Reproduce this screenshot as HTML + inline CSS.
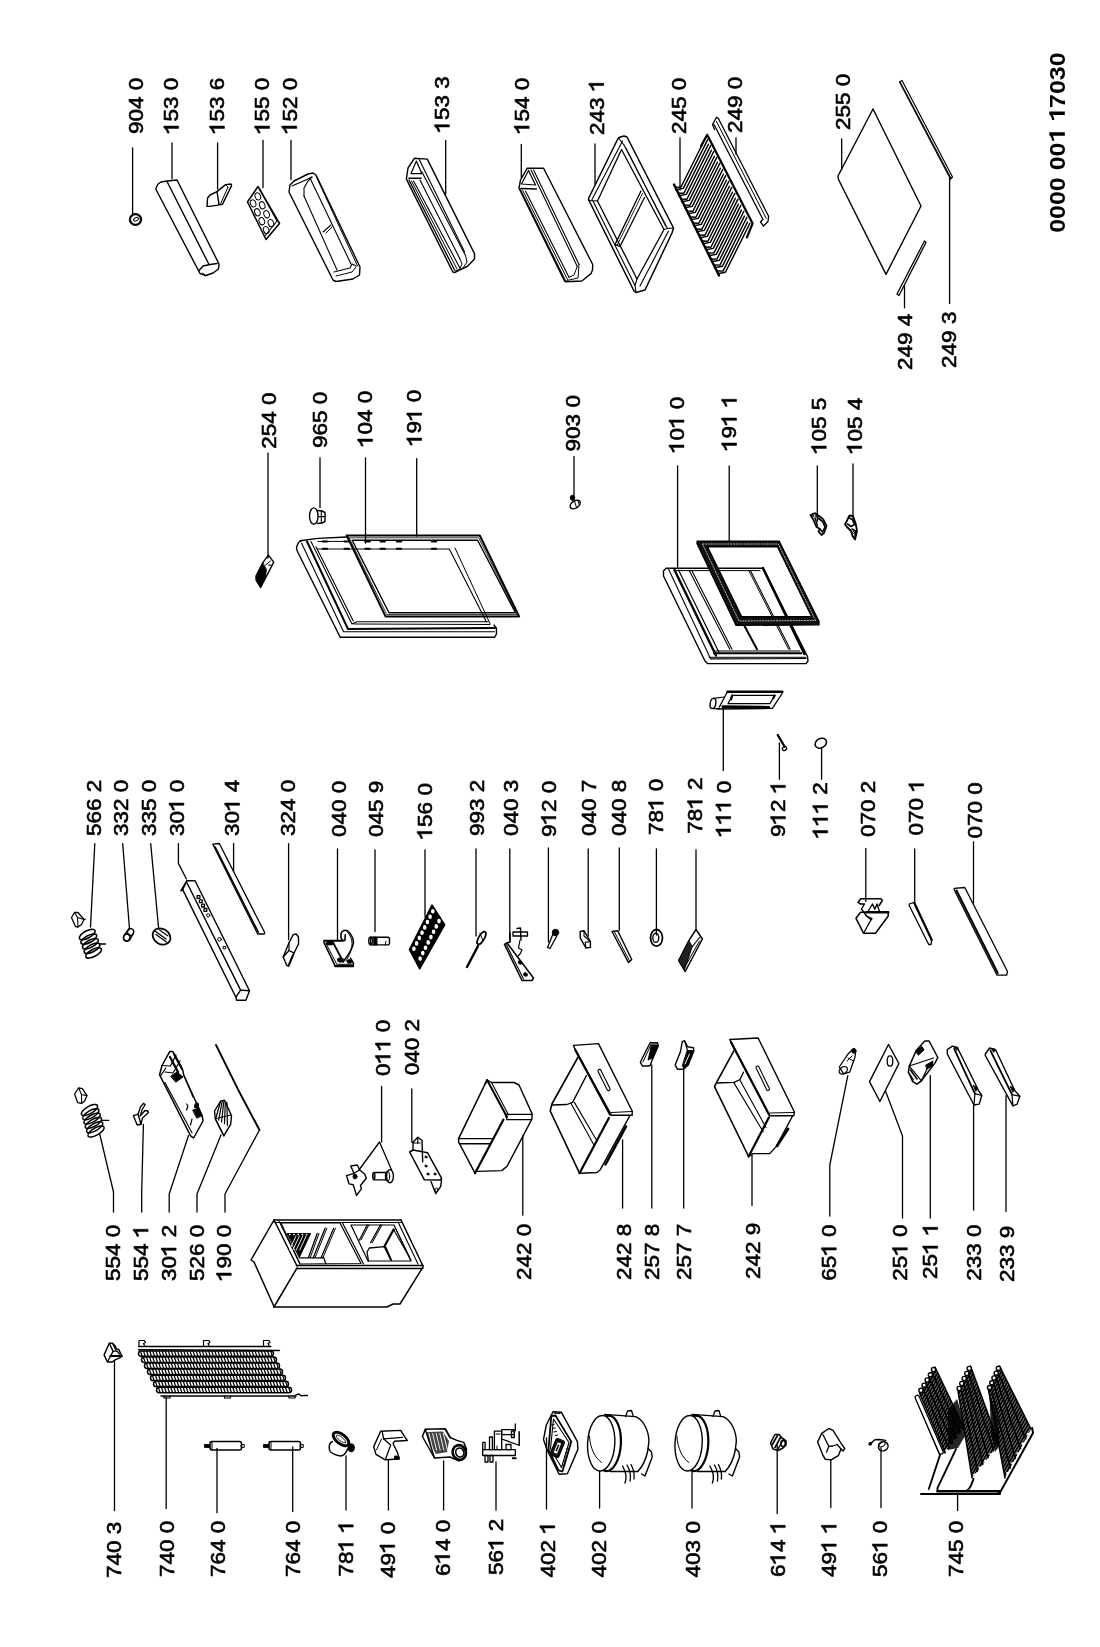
<!DOCTYPE html><html><head><meta charset="utf-8"><style>html,body{margin:0;padding:0;background:#fff;overflow:hidden;width:1100px;height:1647px;}svg{will-change:transform;}svg{display:block;}text{font-family:"Liberation Sans",sans-serif;}</style></head><body>
<svg width="1100" height="1647" viewBox="0 0 1100 1647">
<rect width="1100" height="1647" fill="#fff"/>
<g fill="none" stroke="#000" stroke-width="1.3" stroke-linejoin="round" stroke-linecap="round">
<polyline points="132.6,148.0 132.6,215.6"/>
<polyline points="172.0,143.0 172.0,178.7"/>
<polyline points="217.6,143.0 217.6,189.0"/>
<polyline points="263.0,140.5 263.0,187.6"/>
<polyline points="291.0,140.5 291.0,179.5"/>
<polyline points="445.7,140.5 445.7,194.0"/>
<polyline points="521.3,144.4 521.3,177.4"/>
<polyline points="595.0,144.0 595.0,184.0"/>
<polyline points="680.0,138.0 680.0,190.0"/>
<polyline points="736.0,138.0 736.0,154.0"/>
<polyline points="841.7,139.0 841.7,169.6"/>
<polyline points="904.5,307.8 904.5,286.0"/>
<polyline points="949.6,303.5 949.6,178.4"/>
<polyline points="268.0,453.0 268.0,558.0"/>
<polyline points="320.0,458.0 320.0,507.7"/>
<polyline points="365.5,458.0 365.5,543.0"/>
<polyline points="416.7,458.6 416.7,536.0"/>
<polyline points="574.0,456.5 574.0,500.0"/>
<polyline points="677.6,466.0 677.6,568.0"/>
<polyline points="729.2,466.0 729.2,541.6"/>
<polyline points="817.3,466.0 817.3,521.5"/>
<polyline points="853.0,464.0 853.0,521.5"/>
<polyline points="94.8,843.6 90.5,927.0"/>
<polyline points="122.7,843.6 129.5,929.0"/>
<polyline points="150.7,843.6 158.6,928.0"/>
<polyline points="178.4,843.6 178.4,863.4 186.4,879.0"/>
<polyline points="233.6,843.6 233.6,871.4"/>
<polyline points="288.6,843.6 288.6,939.5"/>
<polyline points="337.5,849.0 337.5,939.5"/>
<polyline points="375.0,849.8 375.0,931.6"/>
<polyline points="425.0,849.8 425.0,916.8"/>
<polyline points="476.0,849.0 476.0,936.0"/>
<polyline points="509.8,849.0 509.8,939.5"/>
<polyline points="548.4,848.0 548.4,941.8"/>
<polyline points="588.2,849.0 588.2,936.0"/>
<polyline points="619.3,848.0 619.3,930.5"/>
<polyline points="656.4,849.0 656.4,935.0"/>
<polyline points="696.0,849.8 696.0,929.3"/>
<polyline points="723.3,770.5 723.3,708.0"/>
<polyline points="779.4,779.3 779.4,743.0"/>
<polyline points="821.6,779.3 821.6,747.3"/>
<polyline points="865.8,848.5 865.8,901.5"/>
<polyline points="914.7,849.0 914.7,903.0"/>
<polyline points="973.5,841.8 973.5,903.0"/>
<polyline points="381.6,1086.5 381.6,1142.0"/>
<polyline points="359.0,1170.0 379.5,1142.0 391.6,1170.0"/>
<polyline points="411.8,1089.0 411.8,1142.0"/>
<polyline points="113.5,1212.0 113.5,1192.0 99.7,1134.0"/>
<polyline points="141.7,1212.0 141.7,1192.0 143.4,1124.5"/>
<polyline points="169.2,1212.0 169.2,1194.0 188.5,1135.5"/>
<polyline points="197.0,1212.0 197.0,1194.0 221.0,1135.0"/>
<polyline points="225.0,1212.0 225.0,1194.0 259.5,1130.0"/>
<polyline points="522.8,1215.0 522.8,1136.0"/>
<polyline points="622.6,1208.0 622.6,1140.0"/>
<polyline points="651.8,1208.0 651.8,1065.0"/>
<polyline points="683.7,1208.0 683.7,1066.0"/>
<polyline points="752.0,1205.5 752.0,1154.5"/>
<polyline points="829.8,1216.0 829.8,1165.0 847.8,1075.6"/>
<polyline points="902.5,1218.0 902.5,1136.0 885.5,1091.0"/>
<polyline points="930.3,1218.0 930.3,1075.6"/>
<polyline points="973.6,1210.0 973.6,1103.5"/>
<polyline points="1006.0,1211.6 1006.0,1095.7"/>
<polyline points="114.5,1510.6 114.5,1361.0"/>
<polyline points="166.2,1508.4 166.2,1397.0"/>
<polyline points="217.0,1512.7 217.0,1448.4"/>
<polyline points="292.7,1511.6 292.7,1447.0"/>
<polyline points="346.0,1510.0 346.0,1456.0"/>
<polyline points="388.4,1510.0 388.4,1460.0"/>
<polyline points="443.6,1510.0 443.6,1461.0"/>
<polyline points="496.0,1510.0 496.0,1462.0"/>
<polyline points="546.5,1509.0 546.5,1438.0"/>
<polyline points="599.6,1508.0 599.6,1462.0"/>
<polyline points="692.0,1508.0 692.0,1469.0"/>
<polyline points="777.2,1513.5 777.2,1445.0"/>
<polyline points="830.8,1507.6 830.8,1459.6"/>
<polyline points="881.0,1507.6 881.0,1448.0"/>
<polyline points="957.6,1510.5 957.6,1494.5"/>
</g>
<g fill="none" stroke="#000" stroke-width="1.4" stroke-linejoin="round" stroke-linecap="round" fill-rule="evenodd">
<ellipse cx="135.5" cy="219.5" rx="5.6" ry="5.3" transform="rotate(0 135.5 219.5)" stroke-width="2.3"/>
<ellipse cx="136.0" cy="219.2" rx="2.6" ry="1.6" transform="rotate(-30 136.0 219.2)" stroke-width="1.0"/>
<polygon points="156.0,188.0 158.0,184.0 161.0,182.0 167.0,181.0 177.0,180.0 219.0,264.0 218.5,269.0 213.0,273.0 206.0,275.5 200.0,273.5 156.0,189.5"/>
<polyline points="167.0,181.5 208.5,263.5"/>
<polyline points="199.0,270.5 203.0,266.0 210.0,264.5 217.0,263.5"/>
<polyline points="203.0,273.0 205.0,276.0" stroke-width="1.0"/>
<polygon points="207.0,206.4 207.6,198.0 210.0,195.0 217.0,191.6 225.6,184.6 231.0,184.0 231.6,185.6 222.4,204.4 210.0,206.4"/>
<polyline points="217.0,191.6 219.0,204.4"/>
<polyline points="225.6,184.6 228.0,187.0" stroke-width="1.0"/>
<polyline points="228.0,187.0 220.5,204.0" stroke-width="1.0"/>
<polygon points="258.0,186.5 279.5,223.5 266.0,239.5 247.5,202.0" stroke-width="1.5"/>
<polyline points="259.5,189.0 277.0,221.0 265.0,236.0" stroke-width="1.1"/>
<ellipse cx="253.1" cy="203.4" rx="2.7" ry="3.7" transform="rotate(-20 253.1 203.4)" stroke-width="1.0"/>
<ellipse cx="257.8" cy="196.4" rx="2.7" ry="3.7" transform="rotate(-20 257.8 196.4)" stroke-width="1.0"/>
<ellipse cx="257.4" cy="212.3" rx="2.7" ry="3.7" transform="rotate(-20 257.4 212.3)" stroke-width="1.0"/>
<ellipse cx="262.2" cy="205.3" rx="2.7" ry="3.7" transform="rotate(-20 262.2 205.3)" stroke-width="1.0"/>
<ellipse cx="261.8" cy="221.2" rx="2.7" ry="3.7" transform="rotate(-20 261.8 221.2)" stroke-width="1.0"/>
<ellipse cx="266.6" cy="214.2" rx="2.7" ry="3.7" transform="rotate(-20 266.6 214.2)" stroke-width="1.0"/>
<ellipse cx="266.2" cy="230.1" rx="2.7" ry="3.7" transform="rotate(-20 266.2 230.1)" stroke-width="1.0"/>
<ellipse cx="270.9" cy="223.1" rx="2.7" ry="3.7" transform="rotate(-20 270.9 223.1)" stroke-width="1.0"/>
<polygon points="289.0,192.0 290.0,185.0 294.0,181.0 308.0,174.0 313.0,173.0 316.0,175.0 360.0,267.0 359.5,275.0 353.0,279.0 336.0,281.5 333.0,280.0"/>
<polyline points="292.0,186.0 308.0,179.0 312.0,177.0" stroke-width="1.1"/>
<polyline points="304.0,196.0 304.0,188.0 308.0,181.0 312.0,177.0" stroke-width="1.1"/>
<polyline points="304.0,196.0 337.0,270.0" stroke-width="1.1"/>
<polyline points="310.0,178.0 351.0,264.0" stroke-width="1.1"/>
<polyline points="316.0,176.0 357.5,266.0" stroke-width="1.0"/>
<polyline points="334.0,272.0 350.0,268.0 352.0,264.0 356.0,266.0" stroke-width="1.1"/>
<polyline points="336.0,276.0 352.0,272.0 356.0,267.0" stroke-width="1.0"/>
<polyline points="323.0,232.0 331.0,225.0" stroke-width="1.1"/>
<polyline points="326.0,233.0 332.0,227.0" stroke-width="1.0"/>
<polygon points="406.4,179.1 408.0,168.0 414.5,158.2 427.3,159.1 474.5,253.6 474.5,259.0 467.3,266.4 454.5,272.7 452.7,271.8" stroke-width="1.4"/>
<polyline points="416.4,161.0 411.0,173.6 421.8,173.6 416.4,161.0" stroke-width="1.2"/>
<polyline points="409.0,178.2 421.0,178.2" stroke-width="1.4"/>
<polyline points="409.0,180.0 454.5,270.0" stroke-width="1.3"/>
<polyline points="411.5,181.0 457.0,269.0" stroke-width="1.0"/>
<polyline points="413.6,181.0 460.0,268.2" stroke-width="1.1"/>
<polyline points="420.0,180.0 460.0,259.0" stroke-width="1.1"/>
<polyline points="421.8,171.8 465.5,255.5" stroke-width="1.1"/>
<polyline points="419.0,159.0 464.5,251.8" stroke-width="1.1"/>
<polyline points="460.0,259.0 462.0,264.0 460.0,268.2" stroke-width="1.0"/>
<polyline points="465.5,255.5 467.0,262.0 463.0,268.0" stroke-width="1.0"/>
<polyline points="455.0,271.0 466.0,267.0" stroke-width="1.0"/>
<polygon points="519.0,188.2 520.5,180.0 527.3,168.2 543.6,168.2 592.7,264.5 592.5,270.0 591.0,273.6 581.8,281.0 565.5,281.8 564.5,281.0" stroke-width="1.4"/>
<polyline points="528.5,170.5 521.5,184.0 535.5,185.0 528.5,170.5" stroke-width="1.2"/>
<polyline points="521.0,188.5 536.5,189.0" stroke-width="1.4"/>
<polyline points="520.0,189.0 565.5,281.0" stroke-width="1.3"/>
<polyline points="522.5,190.0 567.5,279.5" stroke-width="1.0"/>
<polyline points="525.5,191.0 569.0,277.3" stroke-width="1.1"/>
<polyline points="531.0,170.0 577.3,266.4" stroke-width="1.1"/>
<polyline points="533.6,170.0 579.0,264.5" stroke-width="1.1"/>
<polyline points="569.0,277.3 574.0,275.0 577.3,266.4" stroke-width="1.0"/>
<polyline points="567.0,280.5 578.0,278.0 579.0,264.5" stroke-width="1.0"/>
<polygon points="617.5,139.5 619.0,137.5 624.0,136.0 627.0,137.0 673.5,228.0 672.0,233.0 645.0,290.0 636.0,292.5 634.0,291.0 589.0,200.5 588.5,198.5" stroke-width="1.5"/>
<polygon points="621.5,149.5 597.5,201.0 637.0,279.0 664.0,229.5" stroke-width="1.3"/>
<polyline points="622.5,141.0 592.0,199.5" stroke-width="1.1"/>
<polyline points="619.0,138.5 624.0,145.0" stroke-width="1.1"/>
<polyline points="624.0,145.0 667.5,228.5" stroke-width="1.1"/>
<polyline points="626.0,148.0 665.5,226.0" stroke-width="0.9"/>
<polyline points="593.0,201.0 635.0,285.5" stroke-width="1.1"/>
<polyline points="640.0,286.0 668.5,231.0" stroke-width="1.1"/>
<polyline points="664.0,229.5 667.5,228.5 673.5,228.0" stroke-width="1.1"/>
<polyline points="637.0,279.0 635.0,285.5 636.0,292.5" stroke-width="1.1"/>
<polyline points="589.0,200.5 597.5,201.0" stroke-width="1.1"/>
<polyline points="641.0,191.0 615.0,244.6" stroke-width="1.3"/>
<polyline points="644.5,197.5 620.0,246.5" stroke-width="1.3"/>
<line x1="642.5" y1="193.5" x2="617" y2="245.5" stroke-width="1.0" stroke-dasharray="1 1"/>
<polyline points="615.0,244.6 620.0,246.5" stroke-width="1.2"/>
<polyline points="675.6,187.1 680.9,187.2 705.4,138.2" stroke-width="1.45"/>
<polyline points="675.6,189.8 683.3,188.4 707.8,139.4" stroke-width="1.45"/>
<polyline points="678.6,193.1 683.9,193.2 708.4,144.2" stroke-width="1.45"/>
<polyline points="678.6,195.8 686.3,194.4 710.8,145.4" stroke-width="1.45"/>
<polyline points="681.6,199.1 686.9,199.2 711.4,150.2" stroke-width="1.45"/>
<polyline points="681.6,201.8 689.3,200.4 713.8,151.4" stroke-width="1.45"/>
<polyline points="684.6,205.1 689.9,205.2 714.4,156.2" stroke-width="1.45"/>
<polyline points="684.6,207.8 692.3,206.4 716.8,157.4" stroke-width="1.45"/>
<polyline points="687.6,211.1 692.9,211.2 717.4,162.2" stroke-width="1.45"/>
<polyline points="687.6,213.8 695.3,212.4 719.8,163.4" stroke-width="1.45"/>
<polyline points="690.6,217.0 695.9,217.2 720.4,168.2" stroke-width="1.45"/>
<polyline points="690.6,219.7 698.3,218.4 722.8,169.4" stroke-width="1.45"/>
<polyline points="693.6,223.0 698.9,223.2 723.4,174.2" stroke-width="1.45"/>
<polyline points="693.6,225.7 701.3,224.4 725.8,175.4" stroke-width="1.45"/>
<polyline points="696.6,229.0 701.9,229.2 726.4,180.2" stroke-width="1.45"/>
<polyline points="696.6,231.7 704.3,230.4 728.8,181.4" stroke-width="1.45"/>
<polyline points="699.6,235.0 704.9,235.2 729.4,186.2" stroke-width="1.45"/>
<polyline points="699.6,237.7 707.3,236.4 731.8,187.4" stroke-width="1.45"/>
<polyline points="702.6,241.0 707.9,241.2 732.4,192.2" stroke-width="1.45"/>
<polyline points="702.6,243.7 710.3,242.4 734.8,193.4" stroke-width="1.45"/>
<polyline points="705.6,247.0 710.9,247.2 735.4,198.2" stroke-width="1.45"/>
<polyline points="705.6,249.7 713.3,248.4 737.8,199.4" stroke-width="1.45"/>
<polyline points="708.6,253.0 713.9,253.1 738.4,204.1" stroke-width="1.45"/>
<polyline points="708.6,255.7 716.3,254.4 740.8,205.4" stroke-width="1.45"/>
<polyline points="711.6,259.0 716.9,259.1 741.4,210.1" stroke-width="1.45"/>
<polyline points="711.6,261.7 719.4,260.3 743.9,211.3" stroke-width="1.45"/>
<polyline points="714.7,265.0 719.9,265.1 744.4,216.1" stroke-width="1.45"/>
<polyline points="714.7,267.7 722.4,266.3 746.9,217.3" stroke-width="1.45"/>
<polyline points="717.7,271.0 723.0,271.1 747.5,222.1" stroke-width="1.45"/>
<polyline points="717.7,273.7 725.4,272.3 749.9,223.3" stroke-width="1.45"/>
<polyline points="701.0,146.0 707.2,134.8 752.6,223.5 746.9,237.4" stroke-width="2.2"/>
<polyline points="674.0,184.5 719.0,275.5" stroke-width="2.4"/>
<polyline points="718.5,118.8 768.6,216.3" stroke-width="1.3"/>
<polyline points="716.3,121.2 766.2,218.3" stroke-width="1.0"/>
<polyline points="714.0,124.5 763.0,219.5" stroke-width="1.3"/>
<polyline points="718.5,118.8 716.5,117.2 712.5,124.5 714.5,129.5" stroke-width="1.3"/>
<polyline points="768.6,216.3 768.0,221.5 763.5,226.0 760.5,222.0 762.5,219.8" stroke-width="1.3"/>
<polygon points="873.0,109.0 838.0,176.0 838.5,179.5 886.0,274.4 921.0,206.0"/>
<polygon points="899.5,82.0 902.0,80.5 952.5,177.0 950.5,179.0" stroke-width="1.2"/>
<polyline points="900.5,82.5 951.0,178.0" stroke-width="1.0"/>
<polygon points="897.0,294.0 899.0,295.5 926.0,242.5 924.5,241.0" stroke-width="1.3"/>
<polygon points="268.4,555.1 273.7,562.1 272.1,565.4 260.6,587.5 256.1,580.1 256.1,576.0 262.7,562.9" stroke-width="1.4"/>
<polygon points="262.7,563.0 256.0,576.0 256.5,581.0 260.6,587.5 265.0,578.0 266.5,570.0" stroke-width="0.8" fill="#000"/>
<polyline points="265.5,565.0 270.5,561.0" stroke-width="1.0"/>
<polyline points="272.1,565.4 268.5,565.0" stroke-width="1.0"/>
<ellipse cx="313.8" cy="516.1" rx="4.3" ry="8.2" transform="rotate(0 313.8 516.1)" stroke-width="1.4"/>
<polyline points="317.5,510.5 322.0,511.0 325.0,512.5 325.0,521.5 322.0,523.0 317.5,523.5" stroke-width="1.4"/>
<polyline points="318.5,516.7 325.0,516.7" stroke-width="1.2"/>
<polyline points="321.3,511.0 321.3,523.0" stroke-width="1.1"/>
<polyline points="302.0,540.5 298.5,542.5 296.5,547.0 297.0,550.5 340.2,637.3 494.5,637.3 496.5,634.0 496.4,628.2 494.0,625.0"/>
<polyline points="301.6,543.3 343.6,631.8 494.5,631.8" stroke-width="1.1"/>
<polyline points="307.0,541.5 348.0,629.0 495.5,628.0" stroke-width="2.0"/>
<polyline points="311.0,541.5 352.0,624.0 357.0,621.8 488.0,621.8" stroke-width="1.1"/>
<polyline points="354.0,624.0 490.0,624.5" stroke-width="1.0"/>
<polyline points="300.0,540.8 318.0,538.4 346.7,537.0"/>
<polyline points="316.0,546.8 353.3,621.0" stroke-width="1.1"/>
<polyline points="317.3,549.0 449.3,549.0 486.4,621.8" stroke-width="1.1"/>
<polyline points="455.0,548.0 490.0,623.6" stroke-width="1.0"/>
<polyline points="318.0,541.4 346.0,541.4" stroke-width="1.0"/>
<polyline points="322.8,541.6 327.2,541.6" stroke-width="2.0"/>
<polyline points="322.8,548.8 327.2,548.8" stroke-width="2.0"/>
<polyline points="344.5,541.6 348.9,541.6" stroke-width="2.0"/>
<polyline points="344.5,548.8 348.9,548.8" stroke-width="2.0"/>
<polyline points="365.3,541.6 369.7,541.6" stroke-width="2.0"/>
<polyline points="365.3,548.8 369.7,548.8" stroke-width="2.0"/>
<polyline points="380.5,541.6 384.9,541.6" stroke-width="2.0"/>
<polyline points="380.5,548.8 384.9,548.8" stroke-width="2.0"/>
<polyline points="396.8,541.6 401.2,541.6" stroke-width="2.0"/>
<polyline points="396.8,548.8 401.2,548.8" stroke-width="2.0"/>
<polyline points="431.8,541.6 436.2,541.6" stroke-width="2.0"/>
<polyline points="431.8,548.8 436.2,548.8" stroke-width="2.0"/>
<polygon points="346.7,535.5 479.8,535.5 519.1,616.4 385.5,616.4" stroke-width="2.0"/>
<polygon points="352.2,540.3 477.6,540.3 515.5,612.7 389.0,612.7" stroke-width="1.4"/>
<polygon points="349.5,537.8 478.7,537.8 517.3,614.6 387.2,614.6" stroke-width="0.8"/>
<ellipse cx="572.5" cy="497.8" rx="2.2" ry="2.6" transform="rotate(0 572.5 497.8)" stroke-width="1.0" fill="#000"/>
<ellipse cx="575.2" cy="504.5" rx="5.6" ry="3.6" transform="rotate(-35 575.2 504.5)" stroke-width="1.5"/>
<polyline points="574.5,501.0 576.5,507.5" stroke-width="1.0"/>
<polyline points="578.0,501.0 579.5,505.5" stroke-width="1.0"/>
<polygon points="810.5,515.0 815.0,513.2 819.0,516.0 823.0,519.0 826.5,526.0 824.0,533.0 821.5,535.0 818.5,531.5 820.0,529.0 816.5,527.0 813.0,519.0" stroke-width="1.8"/>
<polyline points="818.0,518.0 822.5,521.5 825.0,527.0 822.5,532.0 820.0,529.0" stroke-width="1.6"/>
<polyline points="815.0,518.0 817.5,526.0" stroke-width="1.4"/>
<ellipse cx="812.5" cy="516.0" rx="1.0" ry="1.0" transform="rotate(0 812.5 516.0)" stroke-width="0.9"/>
<ellipse cx="816.0" cy="516.0" rx="1.0" ry="1.0" transform="rotate(0 816.0 516.0)" stroke-width="0.9"/>
<polygon points="849.5,515.5 853.0,516.0 855.8,524.0 857.0,531.0 855.0,539.5 852.5,536.0 851.0,531.0 847.0,527.0 845.0,524.5" stroke-width="1.8"/>
<polyline points="849.5,518.0 853.0,520.0 854.5,524.5 851.0,526.5 847.5,524.0" stroke-width="1.6"/>
<polyline points="852.0,529.0 855.5,531.0 855.0,537.0" stroke-width="1.6"/>
<ellipse cx="853.5" cy="532.5" rx="1.0" ry="1.0" transform="rotate(0 853.5 532.5)" stroke-width="0.9"/>
<polygon points="666.0,568.2 763.2,568.2 807.5,656.5 808.0,661.0 806.0,663.6 707.5,663.6 705.0,661.0 663.5,576.0 663.5,571.0"/>
<polyline points="668.5,569.0 710.7,658.9 806.0,658.5" stroke-width="1.1"/>
<polyline points="674.5,570.0 716.0,655.5" stroke-width="2.4"/>
<polyline points="678.5,570.0 719.5,653.5" stroke-width="1.2"/>
<polyline points="689.2,570.6 729.8,649.3" stroke-width="1.1"/>
<polyline points="691.8,570.6 732.0,649.3" stroke-width="1.1"/>
<polyline points="674.0,570.6 760.0,570.6" stroke-width="1.0"/>
<polyline points="763.0,568.2 804.5,654.0" stroke-width="2.6"/>
<polyline points="715.5,651.0 799.8,651.0" stroke-width="1.1"/>
<polyline points="713.9,653.3 801.4,653.3" stroke-width="2.0"/>
<polyline points="709.0,657.3 806.0,657.3" stroke-width="1.0"/>
<polyline points="750.4,570.6 790.2,649.3" stroke-width="1.1"/>
<polyline points="748.8,570.6 788.6,649.3" stroke-width="1.0"/>
<polyline points="744.0,625.0 757.0,649.3" stroke-width="2.0"/>
<path d="M697.2,541.1 L779.1,541.1 L819,621.5 L819,624.7 L736.1,625.4 L697,543.5 Z M707.5,546.7 L777.5,546.7 L811.7,616.7 L741.7,616.7 Z" stroke-width="1.4" fill="#111"/>
<path d="M702.5,544 L778.3,544 L815.5,620.5 L739,621 Z" stroke="#fff" stroke-width="0.7" stroke-dasharray="1.2 1.6" fill="none"/>
<polygon points="71.5,917.5 74.5,912.5 78.0,912.5 84.0,919.5 81.5,924.5 78.0,927.0 75.5,926.5" stroke-width="1.3"/>
<polyline points="74.5,912.5 77.5,917.5 84.0,919.5" stroke-width="1.1"/>
<polyline points="77.5,917.5 78.0,927.0" stroke-width="1.1"/>
<polyline points="84.0,919.5 85.5,919.0" stroke-width="1.2"/>
<ellipse cx="87.2" cy="934.5" rx="8.8" ry="3.6" transform="rotate(-28 87.2 934.5)" stroke-width="1.6"/>
<ellipse cx="88.8" cy="939.1" rx="8.8" ry="3.6" transform="rotate(-28 88.8 939.1)" stroke-width="1.6"/>
<ellipse cx="90.4" cy="943.7" rx="8.8" ry="3.6" transform="rotate(-28 90.4 943.7)" stroke-width="1.6"/>
<ellipse cx="92.0" cy="948.3" rx="8.8" ry="3.6" transform="rotate(-28 92.0 948.3)" stroke-width="1.6"/>
<ellipse cx="93.6" cy="952.9" rx="8.8" ry="3.6" transform="rotate(-28 93.6 952.9)" stroke-width="1.6"/>
<polyline points="99.5,944.0 105.5,944.0" stroke-width="1.4"/>
<ellipse cx="130.6" cy="932.0" rx="3.0" ry="3.4" transform="rotate(20 130.6 932.0)" stroke-width="1.4"/>
<ellipse cx="126.8" cy="937.5" rx="3.2" ry="3.6" transform="rotate(20 126.8 937.5)" stroke-width="1.8"/>
<polyline points="128.5,929.0 124.5,934.5" stroke-width="1.2"/>
<polyline points="133.5,933.5 129.5,940.5" stroke-width="1.2"/>
<ellipse cx="161.5" cy="936.5" rx="9.4" ry="7.6" transform="rotate(32 161.5 936.5)" stroke-width="1.8"/>
<polyline points="155.0,931.0 166.0,939.0" stroke-width="1.3"/>
<polyline points="156.0,934.5 166.5,942.0" stroke-width="1.3"/>
<polyline points="159.0,929.5 168.0,936.0" stroke-width="1.1"/>
<polygon points="186.8,880.8 195.1,880.8 249.5,990.7 245.9,1000.2 236.5,1000.2 235.9,997.2 182.7,889.6 180.9,890.8 182.1,888.5"/>
<polyline points="186.8,882.5 240.6,990.1"/>
<polyline points="235.9,997.2 240.6,990.1 249.5,990.7"/>
<polyline points="186.8,880.8 182.7,889.6"/>
<polygon points="197.1,895.6 199.9,895.6 199.9,898.4 197.1,898.4" stroke-width="1.3"/>
<polygon points="199.4,899.9 202.2,899.9 202.2,902.7 199.4,902.7" stroke-width="1.3"/>
<polygon points="201.7,904.2 204.5,904.2 204.5,907.0 201.7,907.0" stroke-width="1.3"/>
<polygon points="204.0,908.5 206.8,908.5 206.8,911.3 204.0,911.3" stroke-width="1.3"/>
<ellipse cx="208.2" cy="915.3" rx="1.6" ry="1.6" transform="rotate(0 208.2 915.3)" stroke-width="1.0"/>
<ellipse cx="219.5" cy="939.3" rx="1.8" ry="1.8" transform="rotate(0 219.5 939.3)" stroke-width="1.0"/>
<polygon points="223.5,946.5 225.8,946.5 225.8,948.8 223.5,948.8" stroke-width="1.0"/>
<polygon points="212.8,844.1 219.3,843.5 264.8,932.8 264.2,934.0 257.7,934.0" stroke-width="1.3"/>
<polyline points="215.2,847.0 258.3,932.2" stroke-width="1.6"/>
<polygon points="289.0,942.8 293.2,934.6 296.2,934.0 298.5,937.0 298.5,944.0 293.2,954.7 288.5,965.9 286.7,965.3 283.2,957.0" stroke-width="1.4"/>
<polyline points="289.0,942.8 289.0,950.5" stroke-width="1.2"/>
<polyline points="283.2,957.0 289.0,950.5" stroke-width="1.2"/>
<polyline points="289.0,950.5 293.8,952.9" stroke-width="1.2"/>
<polyline points="293.2,954.7 288.5,965.9" stroke-width="2.0"/>
<polyline points="324.1,940.7 342.4,940.7" stroke-width="2.0"/>
<polyline points="323.7,942.0 335.2,966.2" stroke-width="1.6"/>
<polyline points="325.8,943.0 336.5,963.8" stroke-width="1.0"/>
<polyline points="335.2,966.2 353.1,966.2" stroke-width="2.2"/>
<polyline points="337.0,964.3 352.5,964.3" stroke-width="1.0"/>
<polyline points="353.1,966.2 353.6,963.5 350.5,958.2" stroke-width="1.5"/>
<polyline points="333.3,943.0 343.2,961.7" stroke-width="1.8"/>
<path d="M343.2,961.7 C348,955 352.5,950 353.4,943 C353.6,938 350.5,933.5 347.8,931 C345.5,929.8 342.2,930.3 341,933.5 L341,938 C342,940.2 343.8,940.8 344.9,940.3 L345.3,934.8" stroke-width="1.6"/>
<path d="M345.8,961.2 C350,955 351.8,949.5 352,943.5 C352.2,939 350,935 347.8,932.8" stroke-width="1.0"/>
<ellipse cx="330.0" cy="943.2" rx="3.8" ry="1.9" transform="rotate(0 330.0 943.2)" stroke-width="0.8" fill="#000"/>
<ellipse cx="340.5" cy="960.0" rx="3.2" ry="2.2" transform="rotate(0 340.5 960.0)" stroke-width="0.8" fill="#000"/>
<ellipse cx="349.5" cy="961.5" rx="2.4" ry="2.0" transform="rotate(0 349.5 961.5)" stroke-width="0.8" fill="#000"/>
<polygon points="370.5,937.2 388.5,937.2 389.5,938.5 389.5,943.5 388.5,944.9 370.5,944.9" stroke-width="1.4"/>
<ellipse cx="370.5" cy="941.0" rx="1.8" ry="3.8" transform="rotate(0 370.5 941.0)" stroke-width="1.3"/>
<polygon points="373.5,937.2 377.0,937.2 377.0,944.9 373.5,944.9" stroke-width="1.0" fill="#000"/>
<polyline points="385.0,944.9 386.0,941.5" stroke-width="1.0"/>
<polygon points="432.0,905.3 444.5,924.8 419.7,968.6 409.6,949.6" stroke-width="1.8" fill="#000"/>
<ellipse cx="432.8" cy="911.3" rx="1.8" ry="2.3" fill="#fff" stroke="none"/>
<ellipse cx="439.0" cy="921.1" rx="1.8" ry="2.3" fill="#fff" stroke="none"/>
<ellipse cx="430.1" cy="916.7" rx="1.8" ry="2.3" fill="#fff" stroke="none"/>
<ellipse cx="436.3" cy="926.4" rx="1.8" ry="2.3" fill="#fff" stroke="none"/>
<ellipse cx="427.4" cy="922.0" rx="1.8" ry="2.3" fill="#fff" stroke="none"/>
<ellipse cx="433.6" cy="931.8" rx="1.8" ry="2.3" fill="#fff" stroke="none"/>
<ellipse cx="424.7" cy="927.4" rx="1.8" ry="2.3" fill="#fff" stroke="none"/>
<ellipse cx="430.9" cy="937.1" rx="1.8" ry="2.3" fill="#fff" stroke="none"/>
<ellipse cx="422.0" cy="932.7" rx="1.8" ry="2.3" fill="#fff" stroke="none"/>
<ellipse cx="428.2" cy="942.4" rx="1.8" ry="2.3" fill="#fff" stroke="none"/>
<ellipse cx="419.3" cy="938.0" rx="1.8" ry="2.3" fill="#fff" stroke="none"/>
<ellipse cx="425.5" cy="947.8" rx="1.8" ry="2.3" fill="#fff" stroke="none"/>
<ellipse cx="416.6" cy="943.4" rx="1.8" ry="2.3" fill="#fff" stroke="none"/>
<ellipse cx="422.8" cy="953.1" rx="1.8" ry="2.3" fill="#fff" stroke="none"/>
<ellipse cx="413.9" cy="948.7" rx="1.8" ry="2.3" fill="#fff" stroke="none"/>
<ellipse cx="420.1" cy="958.5" rx="1.8" ry="2.3" fill="#fff" stroke="none"/>
<ellipse cx="481.5" cy="938.0" rx="2.8" ry="7.2" transform="rotate(30 481.5 938.0)" stroke-width="1.7"/>
<polyline points="480.0,933.0 483.0,941.0" stroke-width="1.0"/>
<polyline points="478.0,946.0 467.0,967.0" stroke-width="2.4"/>
<polygon points="504.5,944.5 507.0,943.0 533.5,978.0 532.0,980.5 522.0,980.5" stroke-width="1.5"/>
<polyline points="506.5,945.0 523.5,979.0" stroke-width="1.1"/>
<ellipse cx="520.0" cy="962.5" rx="1.9" ry="1.5" transform="rotate(30 520.0 962.5)" stroke-width="1.0" fill="#000"/>
<ellipse cx="525.5" cy="974.5" rx="1.9" ry="1.6" transform="rotate(30 525.5 974.5)" stroke-width="1.0" fill="#000"/>
<polygon points="513.0,932.0 527.5,932.0 527.5,936.0 513.0,936.0" stroke-width="1.3"/>
<polyline points="517.0,928.5 520.5,928.0 521.0,940.0" stroke-width="1.4"/>
<polyline points="520.0,940.0 518.5,948.0 522.0,950.0 520.0,954.0 518.0,956.0" stroke-width="1.2"/>
<polyline points="510.0,933.0 510.0,942.0 507.0,943.0" stroke-width="1.6"/>
<ellipse cx="555.5" cy="932.5" rx="3.2" ry="3.2" transform="rotate(0 555.5 932.5)" stroke-width="1.0" fill="#000"/>
<polygon points="553.0,934.0 556.8,936.0 550.0,948.5 547.5,947.5" stroke-width="1.3"/>
<polygon points="580.2,931.5 584.0,930.8 590.4,941.6 590.4,947.4 585.9,948.0 580.2,937.8" stroke-width="1.4"/>
<polyline points="584.0,930.8 584.0,936.0 590.4,941.6" stroke-width="1.1"/>
<polyline points="585.3,942.3 590.4,941.6" stroke-width="1.1"/>
<polyline points="585.3,942.3 585.9,948.0" stroke-width="1.1"/>
<polygon points="612.0,931.5 617.7,930.8 631.7,959.5 628.5,962.6" stroke-width="1.4"/>
<polyline points="614.5,932.0 629.8,961.5" stroke-width="1.0"/>
<ellipse cx="656.5" cy="937.8" rx="6.0" ry="8.3" transform="rotate(0 656.5 937.8)" stroke-width="1.8"/>
<ellipse cx="655.8" cy="937.8" rx="3.0" ry="4.6" transform="rotate(0 655.8 937.8)" stroke-width="1.4"/>
<polygon points="696.0,929.5 702.4,939.0 685.2,971.5 678.8,960.7 689.0,940.4" stroke-width="1.5"/>
<polygon points="689.0,941.0 692.2,946.7 684.5,969.6 678.8,960.7" stroke-width="1.0" fill="#222"/>
<polyline points="692.2,946.7 700.0,937.0" stroke-width="1.1"/>
<polyline points="686.0,965.0 699.5,941.0" stroke-width="1.0"/>
<polyline points="727.5,691.8 782.4,691.8 782.4,693.0 772.4,708.4 718.0,709.0" stroke-width="1.3"/>
<polyline points="727.5,691.8 782.4,691.8" stroke-width="2.4"/>
<polyline points="722.7,706.6 768.8,707.2" stroke-width="2.6"/>
<polygon points="732.2,695.4 774.7,695.4 770.0,703.6 728.0,703.6" stroke-width="1.2"/>
<polyline points="732.2,695.4 731.0,699.5" stroke-width="2.2"/>
<polyline points="774.7,695.4 773.5,698.0" stroke-width="2.2"/>
<polyline points="727.5,691.8 719.2,707.2" stroke-width="1.3"/>
<ellipse cx="713.0" cy="703.5" rx="2.8" ry="5.2" transform="rotate(10 713.0 703.5)" stroke-width="1.4"/>
<polyline points="713.5,698.3 724.0,697.0" stroke-width="1.2"/>
<polyline points="714.0,708.7 719.2,708.8" stroke-width="1.2"/>
<polyline points="777.7,735.0 784.6,746.5" stroke-width="2.3"/>
<ellipse cx="784.5" cy="748.6" rx="2.2" ry="1.8" transform="rotate(-30 784.5 748.6)" stroke-width="1.3"/>
<ellipse cx="820.8" cy="743.2" rx="6.0" ry="4.6" transform="rotate(-30 820.8 743.2)" stroke-width="1.5"/>
<polyline points="858.2,902.5 860.5,898.8 880.8,898.8 882.3,900.3 879.2,905.5" stroke-width="1.6"/>
<polyline points="860.5,904.0 864.5,904.0 861.5,909.0 866.5,916.0" stroke-width="1.4"/>
<polyline points="868.0,911.5 872.5,904.0 874.8,909.3 877.0,904.0 879.5,911.5" stroke-width="1.4"/>
<polyline points="858.2,902.5 860.5,904.0" stroke-width="1.4"/>
<polygon points="856.0,918.3 860.5,912.3 888.2,912.3 888.2,916.0 875.5,933.2 863.5,933.2" stroke-width="1.5"/>
<polyline points="866.0,912.3 888.2,912.3" stroke-width="2.4"/>
<polyline points="863.5,933.2 871.0,919.8 866.5,916.0" stroke-width="1.3"/>
<polyline points="866.5,916.0 872.0,918.5 871.0,919.8" stroke-width="1.3"/>
<polygon points="909.2,904.0 913.7,902.5 931.7,939.3 931.0,944.5 928.7,944.5 909.2,905.5" stroke-width="1.3"/>
<polyline points="914.5,903.2 931.7,940.0" stroke-width="2.2"/>
<polygon points="954.2,888.3 964.8,887.5 1007.5,971.5 1006.7,975.2 997.0,975.2 954.2,889.8" stroke-width="1.3"/>
<polyline points="956.5,890.5 997.7,973.0" stroke-width="2.0"/>
<polygon points="74.6,1094.0 78.5,1088.0 82.4,1088.7 87.0,1095.6 84.7,1101.0 81.6,1103.4 77.7,1102.6" stroke-width="1.3"/>
<polyline points="78.5,1088.0 81.5,1094.5 87.0,1095.6" stroke-width="1.1"/>
<polyline points="81.5,1094.5 81.6,1103.4" stroke-width="1.1"/>
<ellipse cx="89.5" cy="1110.0" rx="9.2" ry="3.6" transform="rotate(-30 89.5 1110.0)" stroke-width="1.5"/>
<ellipse cx="90.8" cy="1114.3" rx="9.2" ry="3.6" transform="rotate(-30 90.8 1114.3)" stroke-width="1.5"/>
<ellipse cx="92.1" cy="1118.6" rx="9.2" ry="3.6" transform="rotate(-30 92.1 1118.6)" stroke-width="1.5"/>
<ellipse cx="93.4" cy="1122.9" rx="9.2" ry="3.6" transform="rotate(-30 93.4 1122.9)" stroke-width="1.5"/>
<ellipse cx="94.7" cy="1127.2" rx="9.2" ry="3.6" transform="rotate(-30 94.7 1127.2)" stroke-width="1.5"/>
<ellipse cx="96.0" cy="1131.5" rx="9.2" ry="3.6" transform="rotate(-30 96.0 1131.5)" stroke-width="1.5"/>
<polyline points="101.5,1120.4 108.6,1120.4" stroke-width="1.4"/>
<polygon points="133.4,1115.7 138.0,1114.2 141.1,1124.2 137.2,1125.0" stroke-width="1.4"/>
<polyline points="138.0,1114.2 140.5,1107.0 143.4,1103.4 145.2,1104.5 142.0,1110.0 140.3,1115.7" stroke-width="1.3"/>
<polyline points="140.3,1115.7 145.0,1110.5 148.0,1111.0 148.5,1112.5 142.5,1118.0 141.1,1124.2" stroke-width="1.3"/>
<polygon points="159.6,1074.8 162.0,1065.5 169.7,1051.6 172.8,1051.6 182.8,1070.0 183.6,1074.8 202.2,1115.7 203.0,1121.0 193.6,1138.0 190.6,1135.8" stroke-width="1.5"/>
<polyline points="160.5,1076.0 165.8,1068.0" stroke-width="1.2"/>
<polyline points="165.0,1082.5 192.0,1132.7" stroke-width="1.1"/>
<polyline points="162.0,1065.5 170.5,1066.0 176.0,1055.0" stroke-width="1.2"/>
<polyline points="165.0,1072.0 173.0,1073.0 180.0,1061.0" stroke-width="1.2"/>
<polyline points="170.0,1057.0 178.0,1072.0" stroke-width="2.2"/>
<polyline points="174.0,1054.0 182.0,1069.0" stroke-width="2.2"/>
<polygon points="171.0,1076.0 177.0,1072.0 183.0,1077.0 176.0,1082.0" stroke-width="1.0" fill="#000"/>
<polyline points="183.6,1074.8 193.0,1097.0" stroke-width="1.1"/>
<ellipse cx="196.5" cy="1105.5" rx="1.8" ry="2.6" transform="rotate(20 196.5 1105.5)" stroke-width="1.0" fill="#000"/>
<polygon points="193.0,1110.0 199.0,1108.0 202.0,1115.7 197.0,1118.0" stroke-width="1.0" fill="#000"/>
<polyline points="186.5,1104.0 188.0,1106.0 186.5,1110.0" stroke-width="1.2"/>
<polyline points="192.0,1119.0 190.5,1125.0" stroke-width="1.2"/>
<polygon points="214.5,1111.0 220.7,1101.0 224.6,1100.3 231.5,1115.7 230.7,1124.2 223.8,1135.8 215.3,1118.8" stroke-width="1.4"/>
<polyline points="220.5,1101.5 215.8,1118.5" stroke-width="1.2"/>
<polyline points="222.1,1101.7 218.7,1120.2" stroke-width="1.2"/>
<polyline points="223.7,1101.9 221.6,1121.9" stroke-width="1.2"/>
<polyline points="225.3,1102.1 224.5,1123.6" stroke-width="1.2"/>
<polyline points="226.9,1102.3 227.4,1125.3" stroke-width="1.2"/>
<polyline points="215.3,1118.8 230.7,1115.0" stroke-width="1.0"/>
<polyline points="215.3,1118.8 223.8,1135.8" stroke-width="1.3"/>
<polyline points="216.0,1045.0 240.0,1093.3 259.5,1130.0" stroke-width="1.9"/>
<polyline points="274.0,1220.0 401.0,1220.0" stroke-width="1.6"/>
<polyline points="274.0,1222.5 401.0,1222.5" stroke-width="1.0"/>
<polyline points="274.0,1220.0 251.0,1260.0 254.0,1262.0 274.0,1306.5" stroke-width="1.5"/>
<polyline points="274.0,1307.0 387.0,1307.0 393.0,1304.0 400.0,1304.0 423.0,1267.0" stroke-width="1.5"/>
<polyline points="297.0,1265.5 423.0,1265.5" stroke-width="1.6"/>
<polyline points="297.0,1268.5 423.0,1268.5" stroke-width="1.3"/>
<polyline points="297.0,1268.0 274.0,1307.0" stroke-width="1.5"/>
<polyline points="274.0,1220.0 297.0,1266.0" stroke-width="1.5"/>
<polyline points="279.0,1221.0 300.0,1264.0" stroke-width="1.1"/>
<polyline points="401.0,1220.0 423.0,1266.0" stroke-width="1.5"/>
<polyline points="398.0,1222.0 418.0,1264.0" stroke-width="1.1"/>
<polygon points="281.0,1223.0 340.0,1223.0 361.0,1263.5 300.0,1264.0" stroke-width="1.2"/>
<polyline points="342.5,1223.0 363.5,1264.0" stroke-width="1.2"/>
<polygon points="351.0,1225.0 394.0,1225.0 411.0,1261.0 368.0,1261.0" stroke-width="1.2"/>
<polygon points="287.5,1233.5 310.6,1233.5 299.4,1257.2" fill="#000" stroke="#000" stroke-width="1.0"/>
<line x1="296.0" y1="1236" x2="289.5" y2="1250" stroke="#fff" stroke-width="0.9"/>
<line x1="299.4" y1="1236" x2="292.9" y2="1250" stroke="#fff" stroke-width="0.9"/>
<line x1="302.8" y1="1236" x2="296.3" y2="1250" stroke="#fff" stroke-width="0.9"/>
<line x1="306.2" y1="1236" x2="299.7" y2="1250" stroke="#fff" stroke-width="0.9"/>
<rect x="289.0" y="1233.8" width="1.6" height="1.4" fill="#fff" stroke="none"/>
<rect x="293.2" y="1233.8" width="1.6" height="1.4" fill="#fff" stroke="none"/>
<rect x="297.4" y="1233.8" width="1.6" height="1.4" fill="#fff" stroke="none"/>
<rect x="301.6" y="1233.8" width="1.6" height="1.4" fill="#fff" stroke="none"/>
<rect x="305.8" y="1233.8" width="1.6" height="1.4" fill="#fff" stroke="none"/>
<polyline points="317.2,1233.5 308.6,1257.2" stroke-width="1.3"/>
<polyline points="319.0,1233.5 310.4,1257.2" stroke-width="1.0"/>
<polyline points="325.1,1228.2 313.2,1257.8" stroke-width="1.3"/>
<polyline points="326.9,1228.2 315.0,1257.8" stroke-width="1.0"/>
<polyline points="333.7,1228.2 321.1,1257.8" stroke-width="1.3"/>
<polyline points="335.5,1228.2 322.9,1257.8" stroke-width="1.0"/>
<polyline points="299.4,1257.8 323.8,1257.8 325.8,1263.8" stroke-width="1.2"/>
<polyline points="367.3,1224.9 359.4,1240.0" stroke-width="1.2"/>
<polyline points="368.9,1224.9 361.0,1240.0" stroke-width="1.0"/>
<polyline points="380.5,1224.9 370.6,1242.7" stroke-width="1.2"/>
<polyline points="382.1,1224.9 372.2,1242.7" stroke-width="1.0"/>
<polyline points="368.5,1261.0 367.0,1252.0 369.3,1248.0 384.4,1246.6 391.0,1259.8" stroke-width="1.3"/>
<polyline points="384.4,1246.6 393.6,1229.5" stroke-width="2.2"/>
<polyline points="385.5,1247.5 391.0,1259.8" stroke-width="2.0"/>
<polyline points="393.6,1229.5 410.8,1259.8" stroke-width="1.1"/>
<polyline points="395.5,1228.5 409.0,1256.0" stroke-width="1.0"/>
<polygon points="346.6,1175.7 354.0,1173.3 350.7,1166.0 357.3,1165.0 359.7,1170.0 364.6,1174.0 366.3,1178.2 360.5,1185.5 361.4,1188.8 356.5,1195.4 353.2,1184.7 349.0,1183.9" stroke-width="1.4"/>
<ellipse cx="355.0" cy="1176.5" rx="2.0" ry="2.4" transform="rotate(0 355.0 1176.5)" stroke-width="1.0" fill="#000"/>
<polyline points="354.0,1173.3 359.7,1170.0" stroke-width="1.1"/>
<polygon points="374.0,1172.5 386.0,1172.5 386.0,1179.8 374.0,1179.8" stroke-width="1.3"/>
<ellipse cx="373.8" cy="1176.1" rx="1.2" ry="3.6" transform="rotate(0 373.8 1176.1)" stroke-width="1.2"/>
<ellipse cx="390.0" cy="1176.2" rx="3.4" ry="6.6" transform="rotate(0 390.0 1176.2)" stroke-width="1.4"/>
<ellipse cx="387.5" cy="1176.2" rx="2.2" ry="5.2" transform="rotate(0 387.5 1176.2)" stroke-width="1.0"/>
<polygon points="409.6,1152.0 413.0,1150.0 427.6,1152.8 441.5,1178.2 440.5,1180.0 424.4,1179.8" stroke-width="1.5"/>
<polyline points="413.0,1142.2 417.8,1137.3 422.0,1140.5 422.7,1161.8" stroke-width="1.4"/>
<polyline points="413.0,1142.2 413.0,1150.0" stroke-width="1.4"/>
<polyline points="417.8,1137.3 417.8,1143.0" stroke-width="1.2"/>
<polyline points="413.0,1143.0 420.0,1143.0" stroke-width="1.2"/>
<polyline points="431.0,1181.5 435.8,1193.7 440.7,1186.4 441.5,1180.0" stroke-width="1.4"/>
<ellipse cx="436.5" cy="1190.0" rx="1.5" ry="2.0" transform="rotate(0 436.5 1190.0)" stroke-width="1.0"/>
<ellipse cx="426.0" cy="1157.0" rx="1.2" ry="1.0" transform="rotate(30 426.0 1157.0)" stroke-width="0.8" fill="#000"/>
<ellipse cx="426.0" cy="1166.0" rx="1.2" ry="1.0" transform="rotate(30 426.0 1166.0)" stroke-width="0.8" fill="#000"/>
<ellipse cx="428.0" cy="1174.0" rx="1.2" ry="1.0" transform="rotate(30 428.0 1174.0)" stroke-width="0.8" fill="#000"/>
<ellipse cx="435.0" cy="1174.0" rx="1.2" ry="1.0" transform="rotate(30 435.0 1174.0)" stroke-width="0.8" fill="#000"/>
<polyline points="487.1,1080.0 491.5,1082.5 513.9,1082.5 519.0,1085.0 532.0,1113.6 532.0,1118.8 507.0,1166.3 501.8,1170.6 477.6,1171.4" stroke-width="1.4"/>
<polyline points="485.4,1083.4 487.1,1080.0 507.0,1117.0" stroke-width="2.0"/>
<polyline points="491.5,1082.5 508.5,1115.0" stroke-width="1.1"/>
<polyline points="485.4,1083.4 458.6,1138.6 458.6,1142.0 475.0,1173.2" stroke-width="1.5"/>
<polyline points="458.6,1138.6 492.3,1138.6" stroke-width="1.4"/>
<polyline points="460.4,1143.8 489.7,1143.8" stroke-width="1.4"/>
<polyline points="503.5,1119.6 475.0,1173.2" stroke-width="2.2"/>
<polyline points="505.3,1114.4 532.0,1114.4" stroke-width="1.3"/>
<polyline points="507.0,1119.6 531.2,1119.6" stroke-width="1.3"/>
<polyline points="505.3,1114.4 507.0,1119.6" stroke-width="1.3"/>
<polygon points="573.5,1045.4 598.5,1043.6 632.2,1111.0 632.2,1115.3 611.5,1115.3 575.2,1049.7" stroke-width="1.4"/>
<polyline points="575.2,1049.7 610.0,1114.5" stroke-width="2.2"/>
<polyline points="611.5,1112.5 632.0,1111.5" stroke-width="1.0"/>
<line x1="599.5" y1="1071" x2="608.5" y2="1089" stroke-width="4.2"/>
<line x1="599.5" y1="1071" x2="608.5" y2="1089" stroke-width="1.8" stroke="#fff"/>
<polyline points="577.8,1057.5 551.9,1104.0 550.2,1111.0 579.5,1173.2" stroke-width="1.6"/>
<polyline points="579.5,1173.2 597.0,1172.5 600.3,1169.7 629.6,1116.2" stroke-width="1.4"/>
<polyline points="608.9,1118.0 579.5,1173.2" stroke-width="2.2"/>
<polyline points="551.9,1105.0 567.0,1104.5 572.6,1102.4 586.4,1075.6" stroke-width="1.3"/>
<polyline points="570.9,1103.2 594.2,1145.5" stroke-width="1.1"/>
<polyline points="574.4,1102.4 597.0,1141.0" stroke-width="1.1"/>
<line x1="626" y1="1126.5" x2="605.4" y2="1164.5" stroke-width="2.6" stroke-dasharray="1.2 0.9"/>
<polygon points="729.7,1039.5 758.1,1038.0 794.5,1112.2 793.7,1115.8 769.7,1115.8 731.2,1042.4" stroke-width="1.4"/>
<polyline points="731.2,1042.4 769.0,1114.4" stroke-width="2.2"/>
<polyline points="770.0,1113.0 794.0,1112.5" stroke-width="1.0"/>
<line x1="757.5" y1="1067.5" x2="768" y2="1089" stroke-width="4.0"/>
<line x1="757.5" y1="1067.5" x2="768" y2="1089" stroke-width="1.8" stroke="#fff"/>
<polyline points="734.1,1050.4 716.6,1082.4 714.5,1086.7 748.6,1156.5" stroke-width="1.6"/>
<polyline points="748.6,1156.5 753.0,1153.6 769.7,1153.6 776.3,1146.4 792.3,1116.5" stroke-width="1.4"/>
<polyline points="769.0,1117.3 748.6,1156.5" stroke-width="2.2"/>
<polyline points="716.6,1083.0 734.1,1082.4 740.0,1079.5 743.5,1072.2" stroke-width="1.3"/>
<polyline points="734.1,1083.1 763.2,1131.8" stroke-width="1.1"/>
<polyline points="740.0,1080.2 766.0,1127.5" stroke-width="1.1"/>
<line x1="788" y1="1129" x2="777" y2="1146" stroke-width="2.8" stroke-dasharray="1.2 0.9"/>
<polygon points="640.3,1062.2 650.1,1042.7 657.5,1042.7 658.3,1046.0 652.7,1058.6 650.4,1065.1 648.6,1066.0 642.4,1066.0" stroke-width="1.4"/>
<polygon points="651.5,1045.5 657.8,1045.5 652.5,1058.0 648.0,1060.0 650.0,1052.0" stroke-width="1.0" fill="#000"/>
<polyline points="651.0,1044.5 643.0,1062.0" stroke-width="1.0"/>
<polyline points="651.5,1044.2 657.0,1044.2" stroke-width="1.0"/>
<polygon points="675.2,1065.1 680.5,1051.5 682.3,1041.5 684.6,1040.9 687.6,1046.8 693.5,1047.7 693.8,1051.0 688.2,1065.1 683.5,1069.3 677.6,1069.3" stroke-width="1.4"/>
<polygon points="687.5,1050.5 693.6,1050.5 688.0,1064.5 684.0,1068.5 682.5,1066.0" stroke-width="1.0" fill="#000"/>
<polyline points="684.6,1040.9 687.5,1050.5" stroke-width="1.2"/>
<line x1="689.5" y1="1054" x2="685" y2="1064" stroke="#fff" stroke-width="1.0"/>
<polygon points="839.3,1067.0 848.0,1054.0 852.3,1049.7 855.7,1051.4 854.9,1057.5 849.7,1072.1 843.6,1073.9" stroke-width="1.3"/>
<ellipse cx="843.3" cy="1070.3" rx="4.5" ry="3.2" transform="rotate(-35 843.3 1070.3)" stroke-width="1.3"/>
<ellipse cx="853.8" cy="1050.8" rx="2.2" ry="2.4" transform="rotate(0 853.8 1050.8)" stroke-width="1.0" fill="#000"/>
<polyline points="848.0,1058.0 853.5,1061.0" stroke-width="1.0"/>
<polyline points="847.0,1061.0 852.0,1056.0" stroke-width="1.0"/>
<polygon points="888.5,1044.5 898.9,1063.5 879.9,1101.5 869.5,1081.6" stroke-width="1.4"/>
<ellipse cx="890.0" cy="1061.0" rx="2.8" ry="5.2" transform="rotate(0 890.0 1061.0)" stroke-width="1.3"/>
<polygon points="924.8,1041.0 929.1,1041.0 937.8,1057.5 935.2,1062.6 921.4,1080.8 917.0,1084.2 912.7,1081.6 908.4,1072.1 909.3,1066.1 916.2,1050.5" stroke-width="1.5"/>
<polyline points="909.3,1066.1 921.4,1080.8" stroke-width="1.2"/>
<polyline points="910.5,1070.0 917.0,1079.0" stroke-width="1.6"/>
<polyline points="909.5,1073.5 913.5,1080.0" stroke-width="1.2"/>
<polyline points="909.3,1066.1 933.5,1058.0" stroke-width="1.1"/>
<polygon points="916.0,1051.0 922.0,1046.5 924.0,1050.0 918.5,1055.0" stroke-width="1.0" fill="#000"/>
<polygon points="926.0,1065.0 933.0,1061.0 932.0,1066.0 927.0,1069.0" stroke-width="1.0" fill="#000"/>
<polyline points="921.4,1080.8 927.0,1069.0" stroke-width="1.2"/>
<polygon points="947.3,1049.7 952.4,1046.2 957.6,1048.0 978.4,1090.3 981.8,1095.5 979.2,1104.1 974.0,1105.0 947.3,1054.0" stroke-width="1.4"/>
<polyline points="954.2,1048.8 974.9,1093.7" stroke-width="1.8"/>
<polyline points="974.9,1093.7 974.0,1105.0" stroke-width="1.2"/>
<polyline points="974.9,1093.7 981.8,1095.5" stroke-width="1.2"/>
<polygon points="954.0,1046.5 958.0,1047.5 957.0,1050.0" stroke-width="1.0" fill="#000"/>
<polygon points="973.5,1085.5 977.5,1088.0 976.0,1091.0" stroke-width="1.0" fill="#000"/>
<polygon points="985.3,1054.0 989.6,1048.0 995.6,1049.7 1014.6,1090.3 1019.8,1096.3 1017.2,1104.1 1012.9,1105.8 985.3,1055.5" stroke-width="1.4"/>
<polyline points="990.4,1050.5 1012.0,1094.6" stroke-width="1.8"/>
<polyline points="1012.0,1094.6 1012.9,1105.8" stroke-width="1.2"/>
<polyline points="1012.0,1094.6 1019.8,1096.3" stroke-width="1.2"/>
<polygon points="991.5,1048.5 995.5,1049.5 994.0,1052.0" stroke-width="1.0" fill="#000"/>
<polygon points="1010.5,1086.5 1014.5,1089.0 1013.0,1092.0" stroke-width="1.0" fill="#000"/>
<polygon points="109.3,1343.3 112.5,1343.3 114.7,1345.4 116.4,1348.9 118.8,1349.5 121.8,1355.7 120.7,1357.4 114.7,1360.1 112.3,1362.0 107.4,1362.0 104.1,1354.9" stroke-width="1.4"/>
<polyline points="109.3,1343.3 113.1,1351.4 107.6,1361.5" stroke-width="1.3"/>
<polyline points="110.4,1356.0 121.8,1356.0" stroke-width="2.2"/>
<polyline points="112.5,1343.3 116.0,1350.5" stroke-width="1.2"/>
<polyline points="113.1,1351.4 117.0,1351.0 119.5,1354.0" stroke-width="1.2"/>
<polyline points="138.6,1346.5 270.8,1346.5" stroke-width="1.5"/>
<polyline points="138.6,1349.8 279.4,1350.4" stroke-width="1.5"/>
<polyline points="139.0,1346.5 139.0,1340.5 144.5,1340.5 145.5,1342.5 143.5,1343.5 145.0,1346.5" stroke-width="1.2"/>
<polyline points="203.5,1346.5 203.5,1340.5 209.0,1340.5 210.0,1342.5 208.0,1343.5 209.5,1346.5" stroke-width="1.2"/>
<polyline points="263.5,1346.5 263.5,1340.5 269.0,1340.5 270.0,1342.5 268.0,1343.5 269.5,1346.5" stroke-width="1.2"/>
<rect x="138.5" y="1350.9" width="135.0" height="5.4" rx="2.7" stroke-width="1.5"/>
<line x1="140.5" y1="1351.4" x2="142.0" y2="1355.8" stroke-width="1.25"/>
<line x1="143.6" y1="1351.4" x2="145.1" y2="1355.8" stroke-width="1.25"/>
<line x1="146.7" y1="1351.4" x2="148.2" y2="1355.8" stroke-width="1.25"/>
<line x1="149.8" y1="1351.4" x2="151.3" y2="1355.8" stroke-width="1.25"/>
<line x1="152.9" y1="1351.4" x2="154.4" y2="1355.8" stroke-width="1.25"/>
<line x1="156.0" y1="1351.4" x2="157.5" y2="1355.8" stroke-width="1.25"/>
<line x1="159.1" y1="1351.4" x2="160.6" y2="1355.8" stroke-width="1.25"/>
<line x1="162.2" y1="1351.4" x2="163.7" y2="1355.8" stroke-width="1.25"/>
<line x1="165.3" y1="1351.4" x2="166.8" y2="1355.8" stroke-width="1.25"/>
<line x1="168.4" y1="1351.4" x2="169.9" y2="1355.8" stroke-width="1.25"/>
<line x1="171.5" y1="1351.4" x2="173.0" y2="1355.8" stroke-width="1.25"/>
<line x1="174.6" y1="1351.4" x2="176.1" y2="1355.8" stroke-width="1.25"/>
<line x1="177.7" y1="1351.4" x2="179.2" y2="1355.8" stroke-width="1.25"/>
<line x1="180.8" y1="1351.4" x2="182.3" y2="1355.8" stroke-width="1.25"/>
<line x1="183.9" y1="1351.4" x2="185.4" y2="1355.8" stroke-width="1.25"/>
<line x1="187.0" y1="1351.4" x2="188.5" y2="1355.8" stroke-width="1.25"/>
<line x1="190.1" y1="1351.4" x2="191.6" y2="1355.8" stroke-width="1.25"/>
<line x1="193.2" y1="1351.4" x2="194.7" y2="1355.8" stroke-width="1.25"/>
<line x1="196.3" y1="1351.4" x2="197.8" y2="1355.8" stroke-width="1.25"/>
<line x1="199.4" y1="1351.4" x2="200.9" y2="1355.8" stroke-width="1.25"/>
<line x1="202.5" y1="1351.4" x2="204.0" y2="1355.8" stroke-width="1.25"/>
<line x1="205.6" y1="1351.4" x2="207.1" y2="1355.8" stroke-width="1.25"/>
<line x1="208.7" y1="1351.4" x2="210.2" y2="1355.8" stroke-width="1.25"/>
<line x1="211.8" y1="1351.4" x2="213.3" y2="1355.8" stroke-width="1.25"/>
<line x1="214.9" y1="1351.4" x2="216.4" y2="1355.8" stroke-width="1.25"/>
<line x1="218.0" y1="1351.4" x2="219.5" y2="1355.8" stroke-width="1.25"/>
<line x1="221.1" y1="1351.4" x2="222.6" y2="1355.8" stroke-width="1.25"/>
<line x1="224.2" y1="1351.4" x2="225.7" y2="1355.8" stroke-width="1.25"/>
<line x1="227.3" y1="1351.4" x2="228.8" y2="1355.8" stroke-width="1.25"/>
<line x1="230.4" y1="1351.4" x2="231.9" y2="1355.8" stroke-width="1.25"/>
<line x1="233.5" y1="1351.4" x2="235.0" y2="1355.8" stroke-width="1.25"/>
<line x1="236.6" y1="1351.4" x2="238.1" y2="1355.8" stroke-width="1.25"/>
<line x1="239.7" y1="1351.4" x2="241.2" y2="1355.8" stroke-width="1.25"/>
<line x1="242.8" y1="1351.4" x2="244.3" y2="1355.8" stroke-width="1.25"/>
<line x1="245.9" y1="1351.4" x2="247.4" y2="1355.8" stroke-width="1.25"/>
<line x1="249.0" y1="1351.4" x2="250.5" y2="1355.8" stroke-width="1.25"/>
<line x1="252.1" y1="1351.4" x2="253.6" y2="1355.8" stroke-width="1.25"/>
<line x1="255.2" y1="1351.4" x2="256.7" y2="1355.8" stroke-width="1.25"/>
<line x1="258.3" y1="1351.4" x2="259.8" y2="1355.8" stroke-width="1.25"/>
<line x1="261.4" y1="1351.4" x2="262.9" y2="1355.8" stroke-width="1.25"/>
<line x1="264.5" y1="1351.4" x2="266.0" y2="1355.8" stroke-width="1.25"/>
<line x1="267.6" y1="1351.4" x2="269.1" y2="1355.8" stroke-width="1.25"/>
<line x1="270.7" y1="1351.4" x2="272.2" y2="1355.8" stroke-width="1.25"/>
<rect x="141.5" y="1357.0" width="135.0" height="5.4" rx="2.7" stroke-width="1.5"/>
<line x1="143.5" y1="1357.5" x2="145.0" y2="1361.9" stroke-width="1.25"/>
<line x1="146.6" y1="1357.5" x2="148.1" y2="1361.9" stroke-width="1.25"/>
<line x1="149.7" y1="1357.5" x2="151.2" y2="1361.9" stroke-width="1.25"/>
<line x1="152.8" y1="1357.5" x2="154.3" y2="1361.9" stroke-width="1.25"/>
<line x1="155.9" y1="1357.5" x2="157.4" y2="1361.9" stroke-width="1.25"/>
<line x1="159.0" y1="1357.5" x2="160.5" y2="1361.9" stroke-width="1.25"/>
<line x1="162.1" y1="1357.5" x2="163.6" y2="1361.9" stroke-width="1.25"/>
<line x1="165.2" y1="1357.5" x2="166.7" y2="1361.9" stroke-width="1.25"/>
<line x1="168.3" y1="1357.5" x2="169.8" y2="1361.9" stroke-width="1.25"/>
<line x1="171.4" y1="1357.5" x2="172.9" y2="1361.9" stroke-width="1.25"/>
<line x1="174.5" y1="1357.5" x2="176.0" y2="1361.9" stroke-width="1.25"/>
<line x1="177.6" y1="1357.5" x2="179.1" y2="1361.9" stroke-width="1.25"/>
<line x1="180.7" y1="1357.5" x2="182.2" y2="1361.9" stroke-width="1.25"/>
<line x1="183.8" y1="1357.5" x2="185.3" y2="1361.9" stroke-width="1.25"/>
<line x1="186.9" y1="1357.5" x2="188.4" y2="1361.9" stroke-width="1.25"/>
<line x1="190.0" y1="1357.5" x2="191.5" y2="1361.9" stroke-width="1.25"/>
<line x1="193.1" y1="1357.5" x2="194.6" y2="1361.9" stroke-width="1.25"/>
<line x1="196.2" y1="1357.5" x2="197.7" y2="1361.9" stroke-width="1.25"/>
<line x1="199.3" y1="1357.5" x2="200.8" y2="1361.9" stroke-width="1.25"/>
<line x1="202.4" y1="1357.5" x2="203.9" y2="1361.9" stroke-width="1.25"/>
<line x1="205.5" y1="1357.5" x2="207.0" y2="1361.9" stroke-width="1.25"/>
<line x1="208.6" y1="1357.5" x2="210.1" y2="1361.9" stroke-width="1.25"/>
<line x1="211.7" y1="1357.5" x2="213.2" y2="1361.9" stroke-width="1.25"/>
<line x1="214.8" y1="1357.5" x2="216.3" y2="1361.9" stroke-width="1.25"/>
<line x1="217.9" y1="1357.5" x2="219.4" y2="1361.9" stroke-width="1.25"/>
<line x1="221.0" y1="1357.5" x2="222.5" y2="1361.9" stroke-width="1.25"/>
<line x1="224.1" y1="1357.5" x2="225.6" y2="1361.9" stroke-width="1.25"/>
<line x1="227.2" y1="1357.5" x2="228.7" y2="1361.9" stroke-width="1.25"/>
<line x1="230.3" y1="1357.5" x2="231.8" y2="1361.9" stroke-width="1.25"/>
<line x1="233.4" y1="1357.5" x2="234.9" y2="1361.9" stroke-width="1.25"/>
<line x1="236.5" y1="1357.5" x2="238.0" y2="1361.9" stroke-width="1.25"/>
<line x1="239.6" y1="1357.5" x2="241.1" y2="1361.9" stroke-width="1.25"/>
<line x1="242.7" y1="1357.5" x2="244.2" y2="1361.9" stroke-width="1.25"/>
<line x1="245.8" y1="1357.5" x2="247.3" y2="1361.9" stroke-width="1.25"/>
<line x1="248.9" y1="1357.5" x2="250.4" y2="1361.9" stroke-width="1.25"/>
<line x1="252.0" y1="1357.5" x2="253.5" y2="1361.9" stroke-width="1.25"/>
<line x1="255.1" y1="1357.5" x2="256.6" y2="1361.9" stroke-width="1.25"/>
<line x1="258.2" y1="1357.5" x2="259.7" y2="1361.9" stroke-width="1.25"/>
<line x1="261.3" y1="1357.5" x2="262.8" y2="1361.9" stroke-width="1.25"/>
<line x1="264.4" y1="1357.5" x2="265.9" y2="1361.9" stroke-width="1.25"/>
<line x1="267.5" y1="1357.5" x2="269.0" y2="1361.9" stroke-width="1.25"/>
<line x1="270.6" y1="1357.5" x2="272.1" y2="1361.9" stroke-width="1.25"/>
<line x1="273.7" y1="1357.5" x2="275.2" y2="1361.9" stroke-width="1.25"/>
<rect x="144.5" y="1363.0" width="135.0" height="5.4" rx="2.7" stroke-width="1.5"/>
<line x1="146.5" y1="1363.5" x2="148.0" y2="1367.9" stroke-width="1.25"/>
<line x1="149.6" y1="1363.5" x2="151.1" y2="1367.9" stroke-width="1.25"/>
<line x1="152.7" y1="1363.5" x2="154.2" y2="1367.9" stroke-width="1.25"/>
<line x1="155.8" y1="1363.5" x2="157.3" y2="1367.9" stroke-width="1.25"/>
<line x1="158.9" y1="1363.5" x2="160.4" y2="1367.9" stroke-width="1.25"/>
<line x1="162.0" y1="1363.5" x2="163.5" y2="1367.9" stroke-width="1.25"/>
<line x1="165.1" y1="1363.5" x2="166.6" y2="1367.9" stroke-width="1.25"/>
<line x1="168.2" y1="1363.5" x2="169.7" y2="1367.9" stroke-width="1.25"/>
<line x1="171.3" y1="1363.5" x2="172.8" y2="1367.9" stroke-width="1.25"/>
<line x1="174.4" y1="1363.5" x2="175.9" y2="1367.9" stroke-width="1.25"/>
<line x1="177.5" y1="1363.5" x2="179.0" y2="1367.9" stroke-width="1.25"/>
<line x1="180.6" y1="1363.5" x2="182.1" y2="1367.9" stroke-width="1.25"/>
<line x1="183.7" y1="1363.5" x2="185.2" y2="1367.9" stroke-width="1.25"/>
<line x1="186.8" y1="1363.5" x2="188.3" y2="1367.9" stroke-width="1.25"/>
<line x1="189.9" y1="1363.5" x2="191.4" y2="1367.9" stroke-width="1.25"/>
<line x1="193.0" y1="1363.5" x2="194.5" y2="1367.9" stroke-width="1.25"/>
<line x1="196.1" y1="1363.5" x2="197.6" y2="1367.9" stroke-width="1.25"/>
<line x1="199.2" y1="1363.5" x2="200.7" y2="1367.9" stroke-width="1.25"/>
<line x1="202.3" y1="1363.5" x2="203.8" y2="1367.9" stroke-width="1.25"/>
<line x1="205.4" y1="1363.5" x2="206.9" y2="1367.9" stroke-width="1.25"/>
<line x1="208.5" y1="1363.5" x2="210.0" y2="1367.9" stroke-width="1.25"/>
<line x1="211.6" y1="1363.5" x2="213.1" y2="1367.9" stroke-width="1.25"/>
<line x1="214.7" y1="1363.5" x2="216.2" y2="1367.9" stroke-width="1.25"/>
<line x1="217.8" y1="1363.5" x2="219.3" y2="1367.9" stroke-width="1.25"/>
<line x1="220.9" y1="1363.5" x2="222.4" y2="1367.9" stroke-width="1.25"/>
<line x1="224.0" y1="1363.5" x2="225.5" y2="1367.9" stroke-width="1.25"/>
<line x1="227.1" y1="1363.5" x2="228.6" y2="1367.9" stroke-width="1.25"/>
<line x1="230.2" y1="1363.5" x2="231.7" y2="1367.9" stroke-width="1.25"/>
<line x1="233.3" y1="1363.5" x2="234.8" y2="1367.9" stroke-width="1.25"/>
<line x1="236.4" y1="1363.5" x2="237.9" y2="1367.9" stroke-width="1.25"/>
<line x1="239.5" y1="1363.5" x2="241.0" y2="1367.9" stroke-width="1.25"/>
<line x1="242.6" y1="1363.5" x2="244.1" y2="1367.9" stroke-width="1.25"/>
<line x1="245.7" y1="1363.5" x2="247.2" y2="1367.9" stroke-width="1.25"/>
<line x1="248.8" y1="1363.5" x2="250.3" y2="1367.9" stroke-width="1.25"/>
<line x1="251.9" y1="1363.5" x2="253.4" y2="1367.9" stroke-width="1.25"/>
<line x1="255.0" y1="1363.5" x2="256.5" y2="1367.9" stroke-width="1.25"/>
<line x1="258.1" y1="1363.5" x2="259.6" y2="1367.9" stroke-width="1.25"/>
<line x1="261.2" y1="1363.5" x2="262.7" y2="1367.9" stroke-width="1.25"/>
<line x1="264.3" y1="1363.5" x2="265.8" y2="1367.9" stroke-width="1.25"/>
<line x1="267.4" y1="1363.5" x2="268.9" y2="1367.9" stroke-width="1.25"/>
<line x1="270.5" y1="1363.5" x2="272.0" y2="1367.9" stroke-width="1.25"/>
<line x1="273.6" y1="1363.5" x2="275.1" y2="1367.9" stroke-width="1.25"/>
<line x1="276.7" y1="1363.5" x2="278.2" y2="1367.9" stroke-width="1.25"/>
<rect x="147.5" y="1369.1" width="135.0" height="5.4" rx="2.7" stroke-width="1.5"/>
<line x1="149.5" y1="1369.6" x2="151.0" y2="1374.0" stroke-width="1.25"/>
<line x1="152.6" y1="1369.6" x2="154.1" y2="1374.0" stroke-width="1.25"/>
<line x1="155.7" y1="1369.6" x2="157.2" y2="1374.0" stroke-width="1.25"/>
<line x1="158.8" y1="1369.6" x2="160.3" y2="1374.0" stroke-width="1.25"/>
<line x1="161.9" y1="1369.6" x2="163.4" y2="1374.0" stroke-width="1.25"/>
<line x1="165.0" y1="1369.6" x2="166.5" y2="1374.0" stroke-width="1.25"/>
<line x1="168.1" y1="1369.6" x2="169.6" y2="1374.0" stroke-width="1.25"/>
<line x1="171.2" y1="1369.6" x2="172.7" y2="1374.0" stroke-width="1.25"/>
<line x1="174.3" y1="1369.6" x2="175.8" y2="1374.0" stroke-width="1.25"/>
<line x1="177.4" y1="1369.6" x2="178.9" y2="1374.0" stroke-width="1.25"/>
<line x1="180.5" y1="1369.6" x2="182.0" y2="1374.0" stroke-width="1.25"/>
<line x1="183.6" y1="1369.6" x2="185.1" y2="1374.0" stroke-width="1.25"/>
<line x1="186.7" y1="1369.6" x2="188.2" y2="1374.0" stroke-width="1.25"/>
<line x1="189.8" y1="1369.6" x2="191.3" y2="1374.0" stroke-width="1.25"/>
<line x1="192.9" y1="1369.6" x2="194.4" y2="1374.0" stroke-width="1.25"/>
<line x1="196.0" y1="1369.6" x2="197.5" y2="1374.0" stroke-width="1.25"/>
<line x1="199.1" y1="1369.6" x2="200.6" y2="1374.0" stroke-width="1.25"/>
<line x1="202.2" y1="1369.6" x2="203.7" y2="1374.0" stroke-width="1.25"/>
<line x1="205.3" y1="1369.6" x2="206.8" y2="1374.0" stroke-width="1.25"/>
<line x1="208.4" y1="1369.6" x2="209.9" y2="1374.0" stroke-width="1.25"/>
<line x1="211.5" y1="1369.6" x2="213.0" y2="1374.0" stroke-width="1.25"/>
<line x1="214.6" y1="1369.6" x2="216.1" y2="1374.0" stroke-width="1.25"/>
<line x1="217.7" y1="1369.6" x2="219.2" y2="1374.0" stroke-width="1.25"/>
<line x1="220.8" y1="1369.6" x2="222.3" y2="1374.0" stroke-width="1.25"/>
<line x1="223.9" y1="1369.6" x2="225.4" y2="1374.0" stroke-width="1.25"/>
<line x1="227.0" y1="1369.6" x2="228.5" y2="1374.0" stroke-width="1.25"/>
<line x1="230.1" y1="1369.6" x2="231.6" y2="1374.0" stroke-width="1.25"/>
<line x1="233.2" y1="1369.6" x2="234.7" y2="1374.0" stroke-width="1.25"/>
<line x1="236.3" y1="1369.6" x2="237.8" y2="1374.0" stroke-width="1.25"/>
<line x1="239.4" y1="1369.6" x2="240.9" y2="1374.0" stroke-width="1.25"/>
<line x1="242.5" y1="1369.6" x2="244.0" y2="1374.0" stroke-width="1.25"/>
<line x1="245.6" y1="1369.6" x2="247.1" y2="1374.0" stroke-width="1.25"/>
<line x1="248.7" y1="1369.6" x2="250.2" y2="1374.0" stroke-width="1.25"/>
<line x1="251.8" y1="1369.6" x2="253.3" y2="1374.0" stroke-width="1.25"/>
<line x1="254.9" y1="1369.6" x2="256.4" y2="1374.0" stroke-width="1.25"/>
<line x1="258.0" y1="1369.6" x2="259.5" y2="1374.0" stroke-width="1.25"/>
<line x1="261.1" y1="1369.6" x2="262.6" y2="1374.0" stroke-width="1.25"/>
<line x1="264.2" y1="1369.6" x2="265.7" y2="1374.0" stroke-width="1.25"/>
<line x1="267.3" y1="1369.6" x2="268.8" y2="1374.0" stroke-width="1.25"/>
<line x1="270.4" y1="1369.6" x2="271.9" y2="1374.0" stroke-width="1.25"/>
<line x1="273.5" y1="1369.6" x2="275.0" y2="1374.0" stroke-width="1.25"/>
<line x1="276.6" y1="1369.6" x2="278.1" y2="1374.0" stroke-width="1.25"/>
<line x1="279.7" y1="1369.6" x2="281.2" y2="1374.0" stroke-width="1.25"/>
<rect x="150.5" y="1375.2" width="135.0" height="5.4" rx="2.7" stroke-width="1.5"/>
<line x1="152.5" y1="1375.7" x2="154.0" y2="1380.1" stroke-width="1.25"/>
<line x1="155.6" y1="1375.7" x2="157.1" y2="1380.1" stroke-width="1.25"/>
<line x1="158.7" y1="1375.7" x2="160.2" y2="1380.1" stroke-width="1.25"/>
<line x1="161.8" y1="1375.7" x2="163.3" y2="1380.1" stroke-width="1.25"/>
<line x1="164.9" y1="1375.7" x2="166.4" y2="1380.1" stroke-width="1.25"/>
<line x1="168.0" y1="1375.7" x2="169.5" y2="1380.1" stroke-width="1.25"/>
<line x1="171.1" y1="1375.7" x2="172.6" y2="1380.1" stroke-width="1.25"/>
<line x1="174.2" y1="1375.7" x2="175.7" y2="1380.1" stroke-width="1.25"/>
<line x1="177.3" y1="1375.7" x2="178.8" y2="1380.1" stroke-width="1.25"/>
<line x1="180.4" y1="1375.7" x2="181.9" y2="1380.1" stroke-width="1.25"/>
<line x1="183.5" y1="1375.7" x2="185.0" y2="1380.1" stroke-width="1.25"/>
<line x1="186.6" y1="1375.7" x2="188.1" y2="1380.1" stroke-width="1.25"/>
<line x1="189.7" y1="1375.7" x2="191.2" y2="1380.1" stroke-width="1.25"/>
<line x1="192.8" y1="1375.7" x2="194.3" y2="1380.1" stroke-width="1.25"/>
<line x1="195.9" y1="1375.7" x2="197.4" y2="1380.1" stroke-width="1.25"/>
<line x1="199.0" y1="1375.7" x2="200.5" y2="1380.1" stroke-width="1.25"/>
<line x1="202.1" y1="1375.7" x2="203.6" y2="1380.1" stroke-width="1.25"/>
<line x1="205.2" y1="1375.7" x2="206.7" y2="1380.1" stroke-width="1.25"/>
<line x1="208.3" y1="1375.7" x2="209.8" y2="1380.1" stroke-width="1.25"/>
<line x1="211.4" y1="1375.7" x2="212.9" y2="1380.1" stroke-width="1.25"/>
<line x1="214.5" y1="1375.7" x2="216.0" y2="1380.1" stroke-width="1.25"/>
<line x1="217.6" y1="1375.7" x2="219.1" y2="1380.1" stroke-width="1.25"/>
<line x1="220.7" y1="1375.7" x2="222.2" y2="1380.1" stroke-width="1.25"/>
<line x1="223.8" y1="1375.7" x2="225.3" y2="1380.1" stroke-width="1.25"/>
<line x1="226.9" y1="1375.7" x2="228.4" y2="1380.1" stroke-width="1.25"/>
<line x1="230.0" y1="1375.7" x2="231.5" y2="1380.1" stroke-width="1.25"/>
<line x1="233.1" y1="1375.7" x2="234.6" y2="1380.1" stroke-width="1.25"/>
<line x1="236.2" y1="1375.7" x2="237.7" y2="1380.1" stroke-width="1.25"/>
<line x1="239.3" y1="1375.7" x2="240.8" y2="1380.1" stroke-width="1.25"/>
<line x1="242.4" y1="1375.7" x2="243.9" y2="1380.1" stroke-width="1.25"/>
<line x1="245.5" y1="1375.7" x2="247.0" y2="1380.1" stroke-width="1.25"/>
<line x1="248.6" y1="1375.7" x2="250.1" y2="1380.1" stroke-width="1.25"/>
<line x1="251.7" y1="1375.7" x2="253.2" y2="1380.1" stroke-width="1.25"/>
<line x1="254.8" y1="1375.7" x2="256.3" y2="1380.1" stroke-width="1.25"/>
<line x1="257.9" y1="1375.7" x2="259.4" y2="1380.1" stroke-width="1.25"/>
<line x1="261.0" y1="1375.7" x2="262.5" y2="1380.1" stroke-width="1.25"/>
<line x1="264.1" y1="1375.7" x2="265.6" y2="1380.1" stroke-width="1.25"/>
<line x1="267.2" y1="1375.7" x2="268.7" y2="1380.1" stroke-width="1.25"/>
<line x1="270.3" y1="1375.7" x2="271.8" y2="1380.1" stroke-width="1.25"/>
<line x1="273.4" y1="1375.7" x2="274.9" y2="1380.1" stroke-width="1.25"/>
<line x1="276.5" y1="1375.7" x2="278.0" y2="1380.1" stroke-width="1.25"/>
<line x1="279.6" y1="1375.7" x2="281.1" y2="1380.1" stroke-width="1.25"/>
<line x1="282.7" y1="1375.7" x2="284.2" y2="1380.1" stroke-width="1.25"/>
<rect x="153.5" y="1381.2" width="135.0" height="5.4" rx="2.7" stroke-width="1.5"/>
<line x1="155.5" y1="1381.7" x2="157.0" y2="1386.1" stroke-width="1.25"/>
<line x1="158.6" y1="1381.7" x2="160.1" y2="1386.1" stroke-width="1.25"/>
<line x1="161.7" y1="1381.7" x2="163.2" y2="1386.1" stroke-width="1.25"/>
<line x1="164.8" y1="1381.7" x2="166.3" y2="1386.1" stroke-width="1.25"/>
<line x1="167.9" y1="1381.7" x2="169.4" y2="1386.1" stroke-width="1.25"/>
<line x1="171.0" y1="1381.7" x2="172.5" y2="1386.1" stroke-width="1.25"/>
<line x1="174.1" y1="1381.7" x2="175.6" y2="1386.1" stroke-width="1.25"/>
<line x1="177.2" y1="1381.7" x2="178.7" y2="1386.1" stroke-width="1.25"/>
<line x1="180.3" y1="1381.7" x2="181.8" y2="1386.1" stroke-width="1.25"/>
<line x1="183.4" y1="1381.7" x2="184.9" y2="1386.1" stroke-width="1.25"/>
<line x1="186.5" y1="1381.7" x2="188.0" y2="1386.1" stroke-width="1.25"/>
<line x1="189.6" y1="1381.7" x2="191.1" y2="1386.1" stroke-width="1.25"/>
<line x1="192.7" y1="1381.7" x2="194.2" y2="1386.1" stroke-width="1.25"/>
<line x1="195.8" y1="1381.7" x2="197.3" y2="1386.1" stroke-width="1.25"/>
<line x1="198.9" y1="1381.7" x2="200.4" y2="1386.1" stroke-width="1.25"/>
<line x1="202.0" y1="1381.7" x2="203.5" y2="1386.1" stroke-width="1.25"/>
<line x1="205.1" y1="1381.7" x2="206.6" y2="1386.1" stroke-width="1.25"/>
<line x1="208.2" y1="1381.7" x2="209.7" y2="1386.1" stroke-width="1.25"/>
<line x1="211.3" y1="1381.7" x2="212.8" y2="1386.1" stroke-width="1.25"/>
<line x1="214.4" y1="1381.7" x2="215.9" y2="1386.1" stroke-width="1.25"/>
<line x1="217.5" y1="1381.7" x2="219.0" y2="1386.1" stroke-width="1.25"/>
<line x1="220.6" y1="1381.7" x2="222.1" y2="1386.1" stroke-width="1.25"/>
<line x1="223.7" y1="1381.7" x2="225.2" y2="1386.1" stroke-width="1.25"/>
<line x1="226.8" y1="1381.7" x2="228.3" y2="1386.1" stroke-width="1.25"/>
<line x1="229.9" y1="1381.7" x2="231.4" y2="1386.1" stroke-width="1.25"/>
<line x1="233.0" y1="1381.7" x2="234.5" y2="1386.1" stroke-width="1.25"/>
<line x1="236.1" y1="1381.7" x2="237.6" y2="1386.1" stroke-width="1.25"/>
<line x1="239.2" y1="1381.7" x2="240.7" y2="1386.1" stroke-width="1.25"/>
<line x1="242.3" y1="1381.7" x2="243.8" y2="1386.1" stroke-width="1.25"/>
<line x1="245.4" y1="1381.7" x2="246.9" y2="1386.1" stroke-width="1.25"/>
<line x1="248.5" y1="1381.7" x2="250.0" y2="1386.1" stroke-width="1.25"/>
<line x1="251.6" y1="1381.7" x2="253.1" y2="1386.1" stroke-width="1.25"/>
<line x1="254.7" y1="1381.7" x2="256.2" y2="1386.1" stroke-width="1.25"/>
<line x1="257.8" y1="1381.7" x2="259.3" y2="1386.1" stroke-width="1.25"/>
<line x1="260.9" y1="1381.7" x2="262.4" y2="1386.1" stroke-width="1.25"/>
<line x1="264.0" y1="1381.7" x2="265.5" y2="1386.1" stroke-width="1.25"/>
<line x1="267.1" y1="1381.7" x2="268.6" y2="1386.1" stroke-width="1.25"/>
<line x1="270.2" y1="1381.7" x2="271.7" y2="1386.1" stroke-width="1.25"/>
<line x1="273.3" y1="1381.7" x2="274.8" y2="1386.1" stroke-width="1.25"/>
<line x1="276.4" y1="1381.7" x2="277.9" y2="1386.1" stroke-width="1.25"/>
<line x1="279.5" y1="1381.7" x2="281.0" y2="1386.1" stroke-width="1.25"/>
<line x1="282.6" y1="1381.7" x2="284.1" y2="1386.1" stroke-width="1.25"/>
<line x1="285.7" y1="1381.7" x2="287.2" y2="1386.1" stroke-width="1.25"/>
<rect x="156.5" y="1387.3" width="135.0" height="5.4" rx="2.7" stroke-width="1.5"/>
<line x1="158.5" y1="1387.8" x2="160.0" y2="1392.2" stroke-width="1.25"/>
<line x1="161.6" y1="1387.8" x2="163.1" y2="1392.2" stroke-width="1.25"/>
<line x1="164.7" y1="1387.8" x2="166.2" y2="1392.2" stroke-width="1.25"/>
<line x1="167.8" y1="1387.8" x2="169.3" y2="1392.2" stroke-width="1.25"/>
<line x1="170.9" y1="1387.8" x2="172.4" y2="1392.2" stroke-width="1.25"/>
<line x1="174.0" y1="1387.8" x2="175.5" y2="1392.2" stroke-width="1.25"/>
<line x1="177.1" y1="1387.8" x2="178.6" y2="1392.2" stroke-width="1.25"/>
<line x1="180.2" y1="1387.8" x2="181.7" y2="1392.2" stroke-width="1.25"/>
<line x1="183.3" y1="1387.8" x2="184.8" y2="1392.2" stroke-width="1.25"/>
<line x1="186.4" y1="1387.8" x2="187.9" y2="1392.2" stroke-width="1.25"/>
<line x1="189.5" y1="1387.8" x2="191.0" y2="1392.2" stroke-width="1.25"/>
<line x1="192.6" y1="1387.8" x2="194.1" y2="1392.2" stroke-width="1.25"/>
<line x1="195.7" y1="1387.8" x2="197.2" y2="1392.2" stroke-width="1.25"/>
<line x1="198.8" y1="1387.8" x2="200.3" y2="1392.2" stroke-width="1.25"/>
<line x1="201.9" y1="1387.8" x2="203.4" y2="1392.2" stroke-width="1.25"/>
<line x1="205.0" y1="1387.8" x2="206.5" y2="1392.2" stroke-width="1.25"/>
<line x1="208.1" y1="1387.8" x2="209.6" y2="1392.2" stroke-width="1.25"/>
<line x1="211.2" y1="1387.8" x2="212.7" y2="1392.2" stroke-width="1.25"/>
<line x1="214.3" y1="1387.8" x2="215.8" y2="1392.2" stroke-width="1.25"/>
<line x1="217.4" y1="1387.8" x2="218.9" y2="1392.2" stroke-width="1.25"/>
<line x1="220.5" y1="1387.8" x2="222.0" y2="1392.2" stroke-width="1.25"/>
<line x1="223.6" y1="1387.8" x2="225.1" y2="1392.2" stroke-width="1.25"/>
<line x1="226.7" y1="1387.8" x2="228.2" y2="1392.2" stroke-width="1.25"/>
<line x1="229.8" y1="1387.8" x2="231.3" y2="1392.2" stroke-width="1.25"/>
<line x1="232.9" y1="1387.8" x2="234.4" y2="1392.2" stroke-width="1.25"/>
<line x1="236.0" y1="1387.8" x2="237.5" y2="1392.2" stroke-width="1.25"/>
<line x1="239.1" y1="1387.8" x2="240.6" y2="1392.2" stroke-width="1.25"/>
<line x1="242.2" y1="1387.8" x2="243.7" y2="1392.2" stroke-width="1.25"/>
<line x1="245.3" y1="1387.8" x2="246.8" y2="1392.2" stroke-width="1.25"/>
<line x1="248.4" y1="1387.8" x2="249.9" y2="1392.2" stroke-width="1.25"/>
<line x1="251.5" y1="1387.8" x2="253.0" y2="1392.2" stroke-width="1.25"/>
<line x1="254.6" y1="1387.8" x2="256.1" y2="1392.2" stroke-width="1.25"/>
<line x1="257.7" y1="1387.8" x2="259.2" y2="1392.2" stroke-width="1.25"/>
<line x1="260.8" y1="1387.8" x2="262.3" y2="1392.2" stroke-width="1.25"/>
<line x1="263.9" y1="1387.8" x2="265.4" y2="1392.2" stroke-width="1.25"/>
<line x1="267.0" y1="1387.8" x2="268.5" y2="1392.2" stroke-width="1.25"/>
<line x1="270.1" y1="1387.8" x2="271.6" y2="1392.2" stroke-width="1.25"/>
<line x1="273.2" y1="1387.8" x2="274.7" y2="1392.2" stroke-width="1.25"/>
<line x1="276.3" y1="1387.8" x2="277.8" y2="1392.2" stroke-width="1.25"/>
<line x1="279.4" y1="1387.8" x2="280.9" y2="1392.2" stroke-width="1.25"/>
<line x1="282.5" y1="1387.8" x2="284.0" y2="1392.2" stroke-width="1.25"/>
<line x1="285.6" y1="1387.8" x2="287.1" y2="1392.2" stroke-width="1.25"/>
<line x1="288.7" y1="1387.8" x2="290.2" y2="1392.2" stroke-width="1.25"/>
<polyline points="161.0,1396.0 296.0,1396.0" stroke-width="1.5"/>
<polyline points="164.0,1396.0 164.0,1398.0 170.0,1398.0 170.0,1396.0" stroke-width="1.2"/>
<polyline points="224.5,1396.0 224.5,1398.0 230.5,1398.0 230.5,1396.0" stroke-width="1.2"/>
<polyline points="289.0,1396.0 289.0,1398.0 295.0,1398.0 295.0,1396.0" stroke-width="1.2"/>
<polyline points="295.8,1394.8 299.0,1394.0 301.0,1395.8 304.0,1395.3 307.5,1395.5" stroke-width="1.3"/>
<rect x="210.0" y="1441.5" width="31.5" height="8.5" rx="2" stroke-width="1.5"/>
<rect x="204.8" y="1444.6" width="5.2" height="2.8" fill="#000" stroke-width="1.0"/>
<rect x="241.5" y="1444.6" width="2.8" height="2.8" stroke-width="1.0"/>
<polyline points="212.0,1442.0 212.0,1449.5" stroke-width="1.0"/>
<rect x="269.0" y="1441.5" width="31.5" height="8.5" rx="2" stroke-width="1.5"/>
<rect x="263.8" y="1444.6" width="5.2" height="2.8" fill="#000" stroke-width="1.0"/>
<rect x="300.5" y="1444.6" width="2.8" height="2.8" stroke-width="1.0"/>
<polyline points="271.0,1442.0 271.0,1449.5" stroke-width="1.0"/>
<path d="M332.5,1441.5 C329.5,1442.5 328.5,1445 329.6,1450.5 C331,1453 335,1455 340.5,1456 C343.5,1456 345.5,1454 347.5,1449" stroke-width="1.5"/>
<ellipse cx="341.0" cy="1439.0" rx="9.2" ry="4.7" transform="rotate(38 341.0 1439.0)" stroke-width="2.9"/>
<ellipse cx="341.0" cy="1439.0" rx="5.8" ry="1.9" transform="rotate(38 341.0 1439.0)" stroke-width="0.8" fill="#fff"/>
<ellipse cx="351.2" cy="1447.8" rx="3.2" ry="4.0" transform="rotate(0 351.2 1447.8)" stroke-width="1.0" fill="#000"/>
<polygon points="380.6,1431.2 400.7,1430.4 404.6,1436.6 407.3,1440.5 394.6,1441.2 393.0,1443.5 397.6,1452.8 399.2,1459.0 385.3,1459.8 376.0,1454.4 373.7,1446.6" stroke-width="1.4"/>
<polyline points="382.2,1432.0 383.7,1438.9 402.3,1437.4" stroke-width="1.3"/>
<polyline points="383.7,1438.9 390.7,1445.1 385.3,1459.8" stroke-width="1.3"/>
<polyline points="376.5,1450.0 381.5,1439.0" stroke-width="1.0"/>
<polygon points="395.0,1456.0 399.0,1456.5 399.2,1459.0 395.0,1459.0" stroke-width="1.0" fill="#000"/>
<polygon points="422.4,1436.5 425.3,1429.2 445.2,1428.8 450.1,1437.5 456.9,1440.4 463.7,1442.4 466.6,1449.2 464.7,1458.0 458.9,1460.9 454.0,1458.9 450.1,1457.0 434.5,1458.0" stroke-width="1.5" fill="#fff"/>
<polygon points="427,1432 443,1431.5 449,1441 447,1452 436,1454 428,1440" fill="#444" stroke="none"/>
<line x1="429.0" y1="1433.5" x2="433.0" y2="1450.0" stroke="#fff" stroke-width="0.9"/>
<line x1="432.6" y1="1433.5" x2="436.6" y2="1450.0" stroke="#fff" stroke-width="0.9"/>
<line x1="436.2" y1="1433.5" x2="440.2" y2="1450.0" stroke="#fff" stroke-width="0.9"/>
<line x1="439.8" y1="1433.5" x2="443.8" y2="1450.0" stroke="#fff" stroke-width="0.9"/>
<line x1="443.4" y1="1433.5" x2="447.4" y2="1450.0" stroke="#fff" stroke-width="0.9"/>
<polyline points="425.3,1429.2 434.5,1458.0" stroke-width="1.4"/>
<polyline points="445.2,1428.8 450.1,1437.5" stroke-width="1.6"/>
<ellipse cx="459.3" cy="1452.5" rx="6.6" ry="7.4" transform="rotate(-20 459.3 1452.5)" stroke-width="2.6" fill="#fff"/>
<ellipse cx="459.8" cy="1452.5" rx="4.0" ry="4.6" transform="rotate(-20 459.8 1452.5)" stroke-width="1.6"/>
<rect x="482.7" y="1449.7" width="32.6" height="5.8" stroke-width="1.3"/>
<rect x="485.0" y="1455.5" width="3.0" height="6.5" stroke-width="1.3"/>
<rect x="490.0" y="1455.5" width="3.0" height="6.5" stroke-width="1.3"/>
<rect x="482.7" y="1442.4" width="2.4" height="7.3" stroke-width="1.3"/>
<rect x="489.5" y="1437.0" width="2.9" height="12.7" stroke-width="1.3"/>
<rect x="494.4" y="1431.2" width="7.3" height="18.5" stroke-width="1.3"/>
<rect x="501.7" y="1429.7" width="12.6" height="4.9" stroke-width="1.3"/>
<rect x="511.5" y="1431.0" width="2.8" height="6.5" stroke-width="1.3"/>
<rect x="506.0" y="1444.5" width="5.0" height="5.2" stroke-width="1.3"/>
<rect x="512.5" y="1458.0" width="3.5" height="0.5" stroke-width="1.3"/>
<polyline points="515.3,1423.9 515.3,1430.7" stroke-width="1.3"/>
<polyline points="519.2,1431.7 519.2,1445.3" stroke-width="1.5"/>
<polyline points="501.7,1439.0 519.2,1445.3" stroke-width="1.2"/>
<polyline points="496.0,1434.0 500.0,1434.0" stroke-width="1.0"/>
<polyline points="497.0,1446.0 497.0,1449.0" stroke-width="1.0"/>
<polygon points="553.0,1411.7 561.3,1412.2 577.4,1441.6 577.9,1449.4 567.4,1473.8 559.1,1474.3 546.9,1449.4 543.5,1439.4 546.3,1425.0" stroke-width="1.4"/>
<polygon points="551.3,1416.0 555.5,1415.5 571.3,1441.6 562.4,1471.5 558.5,1470.4 548.5,1449.4" stroke-width="1.8"/>
<polygon points="553.5,1419.0 569.0,1442.5 561.5,1467.5 550.5,1448.5" stroke-width="1.1"/>
<polyline points="554.6,1413.3 560.0,1413.5" stroke-width="1.0"/>
<rect x="552.8" y="1439" width="9.2" height="18" rx="2" transform="rotate(22 557.4 1448)" fill="#111" stroke-width="1.0"/>
<rect x="555.6" y="1442.5" width="3.6" height="11" transform="rotate(22 557.4 1448)" fill="#fff" stroke="none"/>
<rect x="556.6" y="1444.5" width="1.6" height="7" transform="rotate(22 557.4 1448)" fill="#000" stroke="none"/>
<polyline points="551.5,1425.0 554.0,1424.5" stroke-width="1.0"/>
<polyline points="552.7,1428.5 555.2,1428.0" stroke-width="1.0"/>
<polyline points="553.9,1432.0 556.4,1431.5" stroke-width="1.0"/>
<polyline points="555.1,1435.5 557.6,1435.0" stroke-width="1.0"/>
<polyline points="566.5,1449.0 569.0,1449.0" stroke-width="1.0"/>
<polyline points="565.5,1453.0 568.0,1453.0" stroke-width="1.0"/>
<polyline points="564.5,1457.0 567.0,1457.0" stroke-width="1.0"/>
<polyline points="563.5,1461.0 566.0,1461.0" stroke-width="1.0"/>
<polyline points="562.5,1465.0 565.0,1465.0" stroke-width="1.0"/>
<g transform="translate(0,0)">
<polyline points="604.5,1414.4 635.6,1416.6" stroke-width="1.4"/>
<path d="M635.6,1416.6 C644,1420 649,1432 648.9,1441.6 L647.8,1450.5 C646,1460 641,1468 637.8,1471.5" stroke-width="1.4"/>
<polyline points="610.1,1471.5 637.8,1471.5" stroke-width="1.4"/>
<ellipse cx="607.5" cy="1443.3" rx="13.4" ry="27.8" transform="rotate(3 607.5 1443.3)" stroke-width="2.2" fill="#fff"/>
<ellipse cx="601.2" cy="1443.3" rx="13.6" ry="27.8" transform="rotate(3 601.2 1443.3)" stroke-width="1.4" fill="#fff"/>
<path d="M589.5,1436 C590,1448 595,1458 601.5,1462.5" stroke-width="1.0"/>
<polyline points="625.6,1416.6 627.5,1411.0 631.5,1410.5 633.4,1416.6" stroke-width="1.3"/>
<polyline points="648.0,1448.3 651.5,1452.0 652.2,1457.0 645.0,1476.0 641.5,1474.0" stroke-width="1.4"/>
<path d="M622.5,1466 C626,1472 627,1478 625,1483" stroke-width="1.4"/>
<path d="M627,1465 C630,1470 631,1476 630,1481" stroke-width="1.3"/>
<path d="M631,1464.5 C634,1470 634.5,1475 634,1479" stroke-width="1.3"/>
</g>
<g transform="translate(87.4,0)">
<polyline points="604.5,1414.4 635.6,1416.6" stroke-width="1.4"/>
<path d="M635.6,1416.6 C644,1420 649,1432 648.9,1441.6 L647.8,1450.5 C646,1460 641,1468 637.8,1471.5" stroke-width="1.4"/>
<polyline points="610.1,1471.5 637.8,1471.5" stroke-width="1.4"/>
<ellipse cx="607.5" cy="1443.3" rx="13.4" ry="27.8" transform="rotate(3 607.5 1443.3)" stroke-width="2.2" fill="#fff"/>
<ellipse cx="601.2" cy="1443.3" rx="13.6" ry="27.8" transform="rotate(3 601.2 1443.3)" stroke-width="1.4" fill="#fff"/>
<path d="M589.5,1436 C590,1448 595,1458 601.5,1462.5" stroke-width="1.0"/>
<polyline points="625.6,1416.6 627.5,1411.0 631.5,1410.5 633.4,1416.6" stroke-width="1.3"/>
<polyline points="648.0,1448.3 651.5,1452.0 652.2,1457.0 645.0,1476.0 641.5,1474.0" stroke-width="1.4"/>
<path d="M622.5,1466 C626,1472 627,1478 625,1483" stroke-width="1.4"/>
<path d="M627,1465 C630,1470 631,1476 630,1481" stroke-width="1.3"/>
<path d="M631,1464.5 C634,1470 634.5,1475 634,1479" stroke-width="1.3"/>
</g>
<polygon points="770.5,1443.0 775.0,1434.5 779.0,1434.5 782.0,1438.0 786.0,1441.0 786.0,1445.0 783.0,1448.0 778.0,1450.5 773.0,1449.0" stroke-width="1.6"/>
<polyline points="772.0,1445.0 777.5,1435.5" stroke-width="1.6"/>
<polyline points="775.0,1447.5 780.5,1437.5" stroke-width="1.6"/>
<polyline points="778.0,1449.0 783.0,1440.0" stroke-width="1.4"/>
<ellipse cx="783.0" cy="1443.5" rx="2.2" ry="3.0" transform="rotate(0 783.0 1443.5)" stroke-width="1.4"/>
<polygon points="821.7,1433.3 828.8,1428.5 833.0,1430.3 841.8,1444.5 844.8,1448.6 843.0,1451.0 841.0,1449.0 838.3,1455.7 831.2,1459.9 825.3,1459.3 822.9,1455.1 817.6,1442.1" stroke-width="1.4"/>
<polyline points="822.9,1434.5 828.8,1446.3 826.5,1452.2" stroke-width="1.3"/>
<polyline points="828.8,1446.3 833.0,1446.0 837.1,1444.5 841.0,1449.0" stroke-width="1.3"/>
<ellipse cx="883.2" cy="1446.3" rx="5.0" ry="4.4" transform="rotate(-30 883.2 1446.3)" stroke-width="1.5"/>
<ellipse cx="882.0" cy="1444.2" rx="3.5" ry="2.2" transform="rotate(-30 882.0 1444.2)" stroke-width="1.0"/>
<polyline points="870.2,1443.9 874.9,1439.8 880.0,1439.5 885.6,1440.4" stroke-width="1.4"/>
<ellipse cx="870.2" cy="1443.9" rx="1.4" ry="1.4" transform="rotate(0 870.2 1443.9)" stroke-width="1.0" fill="#000"/>
<defs><pattern id="fin" patternUnits="userSpaceOnUse" width="2.6" height="2.6" patternTransform="rotate(-60)"><rect x="0" y="0" width="2.6" height="1.45" fill="#000"/></pattern></defs>
<polyline points="916.0,1398.0 940.0,1455.0 928.8,1489.0" stroke-width="1.9"/>
<polyline points="956.0,1449.2 937.3,1488.3 938.0,1491.0" stroke-width="1.9"/>
<polyline points="1032.2,1428.0 1033.0,1433.0 1000.0,1492.5 997.0,1494.0" stroke-width="2.0"/>
<polyline points="921.0,1494.0 1000.0,1494.0" stroke-width="2.0"/>
<polyline points="937.5,1491.2 999.0,1491.2" stroke-width="2.6"/>
<path d="M973.5,1479 C971,1486 970,1489 966,1491" stroke-width="1.9"/>
<line x1="917.3" y1="1397.5" x2="941" y2="1452" stroke-width="5.6"/>
<line x1="917.3" y1="1397.5" x2="941" y2="1452" stroke-width="3.0" stroke="#fff"/>
<polygon points="919.5,1393.0 935.0,1367.0 964.0,1428.0 945.0,1453.0" fill="#fff" stroke="none"/>
<polygon points="919.5,1393.0 935.0,1367.0 964.0,1428.0 945.0,1453.0" fill="url(#fin)" stroke="none"/>
<polyline points="919.5,1393.0 945.0,1453.0" stroke-width="1.5"/>
<polyline points="922.6,1387.8 948.8,1448.0" stroke-width="1.5"/>
<polyline points="925.7,1382.6 952.6,1443.0" stroke-width="1.5"/>
<polyline points="928.8,1377.4 956.4,1438.0" stroke-width="1.5"/>
<polyline points="931.9,1372.2 960.2,1433.0" stroke-width="1.5"/>
<polyline points="935.0,1367.0 964.0,1428.0" stroke-width="1.5"/>
<circle cx="921.0" cy="1390.4" r="2.1" fill="#fff" stroke-width="1.4"/>
<circle cx="924.1" cy="1385.2" r="2.1" fill="#fff" stroke-width="1.4"/>
<circle cx="927.2" cy="1380.0" r="2.1" fill="#fff" stroke-width="1.4"/>
<circle cx="930.4" cy="1374.8" r="2.1" fill="#fff" stroke-width="1.4"/>
<circle cx="933.5" cy="1369.6" r="2.1" fill="#fff" stroke-width="1.4"/>
<ellipse cx="946.9" cy="1450.5" rx="1.6" ry="1.2" fill="#fff" stroke="none"/>
<ellipse cx="950.7" cy="1445.5" rx="1.6" ry="1.2" fill="#fff" stroke="none"/>
<ellipse cx="954.5" cy="1440.5" rx="1.6" ry="1.2" fill="#fff" stroke="none"/>
<ellipse cx="958.3" cy="1435.5" rx="1.6" ry="1.2" fill="#fff" stroke="none"/>
<ellipse cx="962.1" cy="1430.5" rx="1.6" ry="1.2" fill="#fff" stroke="none"/>
<polygon points="958.0,1391.0 970.5,1366.0 999.0,1444.0 972.0,1478.0" fill="#fff" stroke="none"/>
<polygon points="958.0,1391.0 970.5,1366.0 999.0,1444.0 972.0,1478.0" fill="url(#fin)" stroke="none"/>
<polyline points="958.0,1391.0 972.0,1478.0" stroke-width="1.5"/>
<polyline points="960.5,1386.0 977.4,1471.2" stroke-width="1.5"/>
<polyline points="963.0,1381.0 982.8,1464.4" stroke-width="1.5"/>
<polyline points="965.5,1376.0 988.2,1457.6" stroke-width="1.5"/>
<polyline points="968.0,1371.0 993.6,1450.8" stroke-width="1.5"/>
<polyline points="970.5,1366.0 999.0,1444.0" stroke-width="1.5"/>
<circle cx="959.2" cy="1388.5" r="2.1" fill="#fff" stroke-width="1.4"/>
<circle cx="961.8" cy="1383.5" r="2.1" fill="#fff" stroke-width="1.4"/>
<circle cx="964.2" cy="1378.5" r="2.1" fill="#fff" stroke-width="1.4"/>
<circle cx="966.8" cy="1373.5" r="2.1" fill="#fff" stroke-width="1.4"/>
<circle cx="969.2" cy="1368.5" r="2.1" fill="#fff" stroke-width="1.4"/>
<ellipse cx="974.7" cy="1474.6" rx="1.6" ry="1.2" fill="#fff" stroke="none"/>
<ellipse cx="980.1" cy="1467.8" rx="1.6" ry="1.2" fill="#fff" stroke="none"/>
<ellipse cx="985.5" cy="1461.0" rx="1.6" ry="1.2" fill="#fff" stroke="none"/>
<ellipse cx="990.9" cy="1454.2" rx="1.6" ry="1.2" fill="#fff" stroke="none"/>
<ellipse cx="996.3" cy="1447.4" rx="1.6" ry="1.2" fill="#fff" stroke="none"/>
<polygon points="948,1410 957,1399 963,1418 965,1436 958,1448 948,1450" fill="#000" stroke="none" opacity="0.85"/>
<polygon points="988.5,1390.0 999.5,1366.0 1031.0,1429.0 1005.0,1478.0" fill="#fff" stroke="none"/>
<polygon points="988.5,1390.0 999.5,1366.0 1031.0,1429.0 1005.0,1478.0" fill="url(#fin)" stroke="none"/>
<polyline points="988.5,1390.0 1005.0,1478.0" stroke-width="1.5"/>
<polyline points="990.7,1385.2 1010.2,1468.2" stroke-width="1.5"/>
<polyline points="992.9,1380.4 1015.4,1458.4" stroke-width="1.5"/>
<polyline points="995.1,1375.6 1020.6,1448.6" stroke-width="1.5"/>
<polyline points="997.3,1370.8 1025.8,1438.8" stroke-width="1.5"/>
<polyline points="999.5,1366.0 1031.0,1429.0" stroke-width="1.5"/>
<circle cx="989.6" cy="1387.6" r="2.1" fill="#fff" stroke-width="1.4"/>
<circle cx="991.8" cy="1382.8" r="2.1" fill="#fff" stroke-width="1.4"/>
<circle cx="994.0" cy="1378.0" r="2.1" fill="#fff" stroke-width="1.4"/>
<circle cx="996.2" cy="1373.2" r="2.1" fill="#fff" stroke-width="1.4"/>
<circle cx="998.4" cy="1368.4" r="2.1" fill="#fff" stroke-width="1.4"/>
<ellipse cx="1007.6" cy="1473.1" rx="1.6" ry="1.2" fill="#fff" stroke="none"/>
<ellipse cx="1012.8" cy="1463.3" rx="1.6" ry="1.2" fill="#fff" stroke="none"/>
<ellipse cx="1018.0" cy="1453.5" rx="1.6" ry="1.2" fill="#fff" stroke="none"/>
<ellipse cx="1023.2" cy="1443.7" rx="1.6" ry="1.2" fill="#fff" stroke="none"/>
<ellipse cx="1028.4" cy="1433.9" rx="1.6" ry="1.2" fill="#fff" stroke="none"/>
<polygon points="989.5,1396 995,1408 999,1430 999.5,1446 995,1452 991,1432" fill="#000" stroke="none" opacity="0.85"/>
</g>
<g font-size="20.0" fill="#000" stroke="#000" stroke-width="0.6">
<g transform="translate(143.3,134.0) rotate(-90) scale(1.125,1)">
<text x="0.00">9</text>
<text x="11.12">0</text>
<text x="22.24">4</text>
<text x="38.92">0</text>
</g>
<g transform="translate(178.4,134.0) rotate(-90) scale(1.125,1)">
<g transform="translate(0.00,0)"><path d="M5.0,0.25 L7.05,0.25 L7.05,-14.6 L5.5,-14.6 C4.7,-12.9 3.1,-11.7 0.8,-11.0 L0.8,-9.1 C2.6,-9.6 4.0,-10.3 5.0,-11.3 Z" stroke-width="0.5"/></g>
<text x="11.12">5</text>
<text x="22.24">3</text>
<text x="38.92">0</text>
</g>
<g transform="translate(224.2,134.0) rotate(-90) scale(1.125,1)">
<g transform="translate(0.00,0)"><path d="M5.0,0.25 L7.05,0.25 L7.05,-14.6 L5.5,-14.6 C4.7,-12.9 3.1,-11.7 0.8,-11.0 L0.8,-9.1 C2.6,-9.6 4.0,-10.3 5.0,-11.3 Z" stroke-width="0.5"/></g>
<text x="11.12">5</text>
<text x="22.24">3</text>
<text x="38.92">6</text>
</g>
<g transform="translate(269.3,134.0) rotate(-90) scale(1.125,1)">
<g transform="translate(0.00,0)"><path d="M5.0,0.25 L7.05,0.25 L7.05,-14.6 L5.5,-14.6 C4.7,-12.9 3.1,-11.7 0.8,-11.0 L0.8,-9.1 C2.6,-9.6 4.0,-10.3 5.0,-11.3 Z" stroke-width="0.5"/></g>
<text x="11.12">5</text>
<text x="22.24">5</text>
<text x="38.92">0</text>
</g>
<g transform="translate(296.5,134.0) rotate(-90) scale(1.125,1)">
<g transform="translate(0.00,0)"><path d="M5.0,0.25 L7.05,0.25 L7.05,-14.6 L5.5,-14.6 C4.7,-12.9 3.1,-11.7 0.8,-11.0 L0.8,-9.1 C2.6,-9.6 4.0,-10.3 5.0,-11.3 Z" stroke-width="0.5"/></g>
<text x="11.12">5</text>
<text x="22.24">2</text>
<text x="38.92">0</text>
</g>
<g transform="translate(449.2,132.6) rotate(-90) scale(1.125,1)">
<g transform="translate(0.00,0)"><path d="M5.0,0.25 L7.05,0.25 L7.05,-14.6 L5.5,-14.6 C4.7,-12.9 3.1,-11.7 0.8,-11.0 L0.8,-9.1 C2.6,-9.6 4.0,-10.3 5.0,-11.3 Z" stroke-width="0.5"/></g>
<text x="11.12">5</text>
<text x="22.24">3</text>
<text x="38.92">3</text>
</g>
<g transform="translate(528.9,134.0) rotate(-90) scale(1.125,1)">
<g transform="translate(0.00,0)"><path d="M5.0,0.25 L7.05,0.25 L7.05,-14.6 L5.5,-14.6 C4.7,-12.9 3.1,-11.7 0.8,-11.0 L0.8,-9.1 C2.6,-9.6 4.0,-10.3 5.0,-11.3 Z" stroke-width="0.5"/></g>
<text x="11.12">5</text>
<text x="22.24">4</text>
<text x="38.92">0</text>
</g>
<g transform="translate(603.5,135.0) rotate(-90) scale(1.125,1)">
<text x="0.00">2</text>
<text x="11.12">4</text>
<text x="22.24">3</text>
<g transform="translate(38.92,0)"><path d="M5.0,0.25 L7.05,0.25 L7.05,-14.6 L5.5,-14.6 C4.7,-12.9 3.1,-11.7 0.8,-11.0 L0.8,-9.1 C2.6,-9.6 4.0,-10.3 5.0,-11.3 Z" stroke-width="0.5"/></g>
</g>
<g transform="translate(686.0,134.0) rotate(-90) scale(1.125,1)">
<text x="0.00">2</text>
<text x="11.12">4</text>
<text x="22.24">5</text>
<text x="38.92">0</text>
</g>
<g transform="translate(741.6,133.0) rotate(-90) scale(1.125,1)">
<text x="0.00">2</text>
<text x="11.12">4</text>
<text x="22.24">9</text>
<text x="38.92">0</text>
</g>
<g transform="translate(849.8,130.0) rotate(-90) scale(1.125,1)">
<text x="0.00">2</text>
<text x="11.12">5</text>
<text x="22.24">5</text>
<text x="38.92">0</text>
</g>
<g transform="translate(912.4,370.0) rotate(-90) scale(1.125,1)">
<text x="0.00">2</text>
<text x="11.12">4</text>
<text x="22.24">9</text>
<text x="38.92">4</text>
</g>
<g transform="translate(956.0,367.9) rotate(-90) scale(1.125,1)">
<text x="0.00">2</text>
<text x="11.12">4</text>
<text x="22.24">9</text>
<text x="38.92">3</text>
</g>
<g transform="translate(275.5,448.7) rotate(-90) scale(1.125,1)">
<text x="0.00">2</text>
<text x="11.12">5</text>
<text x="22.24">4</text>
<text x="38.92">0</text>
</g>
<g transform="translate(326.7,448.0) rotate(-90) scale(1.125,1)">
<text x="0.00">9</text>
<text x="11.12">6</text>
<text x="22.24">5</text>
<text x="38.92">0</text>
</g>
<g transform="translate(372.3,447.0) rotate(-90) scale(1.125,1)">
<g transform="translate(0.00,0)"><path d="M5.0,0.25 L7.05,0.25 L7.05,-14.6 L5.5,-14.6 C4.7,-12.9 3.1,-11.7 0.8,-11.0 L0.8,-9.1 C2.6,-9.6 4.0,-10.3 5.0,-11.3 Z" stroke-width="0.5"/></g>
<text x="11.12">0</text>
<text x="22.24">4</text>
<text x="38.92">0</text>
</g>
<g transform="translate(421.4,446.0) rotate(-90) scale(1.125,1)">
<g transform="translate(0.00,0)"><path d="M5.0,0.25 L7.05,0.25 L7.05,-14.6 L5.5,-14.6 C4.7,-12.9 3.1,-11.7 0.8,-11.0 L0.8,-9.1 C2.6,-9.6 4.0,-10.3 5.0,-11.3 Z" stroke-width="0.5"/></g>
<text x="11.12">9</text>
<g transform="translate(22.24,0)"><path d="M5.0,0.25 L7.05,0.25 L7.05,-14.6 L5.5,-14.6 C4.7,-12.9 3.1,-11.7 0.8,-11.0 L0.8,-9.1 C2.6,-9.6 4.0,-10.3 5.0,-11.3 Z" stroke-width="0.5"/></g>
<text x="38.92">0</text>
</g>
<g transform="translate(580.2,451.4) rotate(-90) scale(1.125,1)">
<text x="0.00">9</text>
<text x="11.12">0</text>
<text x="22.24">3</text>
<text x="38.92">0</text>
</g>
<g transform="translate(683.7,453.0) rotate(-90) scale(1.125,1)">
<g transform="translate(0.00,0)"><path d="M5.0,0.25 L7.05,0.25 L7.05,-14.6 L5.5,-14.6 C4.7,-12.9 3.1,-11.7 0.8,-11.0 L0.8,-9.1 C2.6,-9.6 4.0,-10.3 5.0,-11.3 Z" stroke-width="0.5"/></g>
<text x="11.12">0</text>
<g transform="translate(22.24,0)"><path d="M5.0,0.25 L7.05,0.25 L7.05,-14.6 L5.5,-14.6 C4.7,-12.9 3.1,-11.7 0.8,-11.0 L0.8,-9.1 C2.6,-9.6 4.0,-10.3 5.0,-11.3 Z" stroke-width="0.5"/></g>
<text x="38.92">0</text>
</g>
<g transform="translate(736.3,451.0) rotate(-90) scale(1.125,1)">
<g transform="translate(0.00,0)"><path d="M5.0,0.25 L7.05,0.25 L7.05,-14.6 L5.5,-14.6 C4.7,-12.9 3.1,-11.7 0.8,-11.0 L0.8,-9.1 C2.6,-9.6 4.0,-10.3 5.0,-11.3 Z" stroke-width="0.5"/></g>
<text x="11.12">9</text>
<g transform="translate(22.24,0)"><path d="M5.0,0.25 L7.05,0.25 L7.05,-14.6 L5.5,-14.6 C4.7,-12.9 3.1,-11.7 0.8,-11.0 L0.8,-9.1 C2.6,-9.6 4.0,-10.3 5.0,-11.3 Z" stroke-width="0.5"/></g>
<g transform="translate(38.92,0)"><path d="M5.0,0.25 L7.05,0.25 L7.05,-14.6 L5.5,-14.6 C4.7,-12.9 3.1,-11.7 0.8,-11.0 L0.8,-9.1 C2.6,-9.6 4.0,-10.3 5.0,-11.3 Z" stroke-width="0.5"/></g>
</g>
<g transform="translate(826.0,454.0) rotate(-90) scale(1.125,1)">
<g transform="translate(0.00,0)"><path d="M5.0,0.25 L7.05,0.25 L7.05,-14.6 L5.5,-14.6 C4.7,-12.9 3.1,-11.7 0.8,-11.0 L0.8,-9.1 C2.6,-9.6 4.0,-10.3 5.0,-11.3 Z" stroke-width="0.5"/></g>
<text x="11.12">0</text>
<text x="22.24">5</text>
<text x="38.92">5</text>
</g>
<g transform="translate(861.5,454.0) rotate(-90) scale(1.125,1)">
<g transform="translate(0.00,0)"><path d="M5.0,0.25 L7.05,0.25 L7.05,-14.6 L5.5,-14.6 C4.7,-12.9 3.1,-11.7 0.8,-11.0 L0.8,-9.1 C2.6,-9.6 4.0,-10.3 5.0,-11.3 Z" stroke-width="0.5"/></g>
<text x="11.12">0</text>
<text x="22.24">5</text>
<text x="38.92">4</text>
</g>
<g transform="translate(100.5,836.0) rotate(-90) scale(1.125,1)">
<text x="0.00">5</text>
<text x="11.12">6</text>
<text x="22.24">6</text>
<text x="38.92">2</text>
</g>
<g transform="translate(128.4,836.0) rotate(-90) scale(1.125,1)">
<text x="0.00">3</text>
<text x="11.12">3</text>
<text x="22.24">2</text>
<text x="38.92">0</text>
</g>
<g transform="translate(156.0,836.0) rotate(-90) scale(1.125,1)">
<text x="0.00">3</text>
<text x="11.12">3</text>
<text x="22.24">5</text>
<text x="38.92">0</text>
</g>
<g transform="translate(183.6,836.0) rotate(-90) scale(1.125,1)">
<text x="0.00">3</text>
<text x="11.12">0</text>
<g transform="translate(22.24,0)"><path d="M5.0,0.25 L7.05,0.25 L7.05,-14.6 L5.5,-14.6 C4.7,-12.9 3.1,-11.7 0.8,-11.0 L0.8,-9.1 C2.6,-9.6 4.0,-10.3 5.0,-11.3 Z" stroke-width="0.5"/></g>
<text x="38.92">0</text>
</g>
<g transform="translate(239.3,836.0) rotate(-90) scale(1.125,1)">
<text x="0.00">3</text>
<text x="11.12">0</text>
<g transform="translate(22.24,0)"><path d="M5.0,0.25 L7.05,0.25 L7.05,-14.6 L5.5,-14.6 C4.7,-12.9 3.1,-11.7 0.8,-11.0 L0.8,-9.1 C2.6,-9.6 4.0,-10.3 5.0,-11.3 Z" stroke-width="0.5"/></g>
<text x="38.92">4</text>
</g>
<g transform="translate(295.3,836.0) rotate(-90) scale(1.125,1)">
<text x="0.00">3</text>
<text x="11.12">2</text>
<text x="22.24">4</text>
<text x="38.92">0</text>
</g>
<g transform="translate(346.4,837.0) rotate(-90) scale(1.125,1)">
<text x="0.00">0</text>
<text x="11.12">4</text>
<text x="22.24">0</text>
<text x="38.92">0</text>
</g>
<g transform="translate(383.4,837.0) rotate(-90) scale(1.125,1)">
<text x="0.00">0</text>
<text x="11.12">4</text>
<text x="22.24">5</text>
<text x="38.92">9</text>
</g>
<g transform="translate(431.8,839.4) rotate(-90) scale(1.125,1)">
<g transform="translate(0.00,0)"><path d="M5.0,0.25 L7.05,0.25 L7.05,-14.6 L5.5,-14.6 C4.7,-12.9 3.1,-11.7 0.8,-11.0 L0.8,-9.1 C2.6,-9.6 4.0,-10.3 5.0,-11.3 Z" stroke-width="0.5"/></g>
<text x="11.12">5</text>
<text x="22.24">6</text>
<text x="38.92">0</text>
</g>
<g transform="translate(483.9,836.0) rotate(-90) scale(1.125,1)">
<text x="0.00">9</text>
<text x="11.12">9</text>
<text x="22.24">3</text>
<text x="38.92">2</text>
</g>
<g transform="translate(518.2,836.0) rotate(-90) scale(1.125,1)">
<text x="0.00">0</text>
<text x="11.12">4</text>
<text x="22.24">0</text>
<text x="38.92">3</text>
</g>
<g transform="translate(555.7,837.0) rotate(-90) scale(1.125,1)">
<text x="0.00">9</text>
<g transform="translate(11.12,0)"><path d="M5.0,0.25 L7.05,0.25 L7.05,-14.6 L5.5,-14.6 C4.7,-12.9 3.1,-11.7 0.8,-11.0 L0.8,-9.1 C2.6,-9.6 4.0,-10.3 5.0,-11.3 Z" stroke-width="0.5"/></g>
<text x="22.24">2</text>
<text x="38.92">0</text>
</g>
<g transform="translate(595.5,836.0) rotate(-90) scale(1.125,1)">
<text x="0.00">0</text>
<text x="11.12">4</text>
<text x="22.24">0</text>
<text x="38.92">7</text>
</g>
<g transform="translate(626.0,836.0) rotate(-90) scale(1.125,1)">
<text x="0.00">0</text>
<text x="11.12">4</text>
<text x="22.24">0</text>
<text x="38.92">8</text>
</g>
<g transform="translate(663.0,835.0) rotate(-90) scale(1.125,1)">
<text x="0.00">7</text>
<text x="11.12">8</text>
<g transform="translate(22.24,0)"><path d="M5.0,0.25 L7.05,0.25 L7.05,-14.6 L5.5,-14.6 C4.7,-12.9 3.1,-11.7 0.8,-11.0 L0.8,-9.1 C2.6,-9.6 4.0,-10.3 5.0,-11.3 Z" stroke-width="0.5"/></g>
<text x="38.92">0</text>
</g>
<g transform="translate(702.0,833.7) rotate(-90) scale(1.125,1)">
<text x="0.00">7</text>
<text x="11.12">8</text>
<g transform="translate(22.24,0)"><path d="M5.0,0.25 L7.05,0.25 L7.05,-14.6 L5.5,-14.6 C4.7,-12.9 3.1,-11.7 0.8,-11.0 L0.8,-9.1 C2.6,-9.6 4.0,-10.3 5.0,-11.3 Z" stroke-width="0.5"/></g>
<text x="38.92">2</text>
</g>
<g transform="translate(730.5,837.0) rotate(-90) scale(1.125,1)">
<g transform="translate(0.00,0)"><path d="M5.0,0.25 L7.05,0.25 L7.05,-14.6 L5.5,-14.6 C4.7,-12.9 3.1,-11.7 0.8,-11.0 L0.8,-9.1 C2.6,-9.6 4.0,-10.3 5.0,-11.3 Z" stroke-width="0.5"/></g>
<g transform="translate(11.12,0)"><path d="M5.0,0.25 L7.05,0.25 L7.05,-14.6 L5.5,-14.6 C4.7,-12.9 3.1,-11.7 0.8,-11.0 L0.8,-9.1 C2.6,-9.6 4.0,-10.3 5.0,-11.3 Z" stroke-width="0.5"/></g>
<g transform="translate(22.24,0)"><path d="M5.0,0.25 L7.05,0.25 L7.05,-14.6 L5.5,-14.6 C4.7,-12.9 3.1,-11.7 0.8,-11.0 L0.8,-9.1 C2.6,-9.6 4.0,-10.3 5.0,-11.3 Z" stroke-width="0.5"/></g>
<text x="38.92">0</text>
</g>
<g transform="translate(785.2,837.0) rotate(-90) scale(1.125,1)">
<text x="0.00">9</text>
<g transform="translate(11.12,0)"><path d="M5.0,0.25 L7.05,0.25 L7.05,-14.6 L5.5,-14.6 C4.7,-12.9 3.1,-11.7 0.8,-11.0 L0.8,-9.1 C2.6,-9.6 4.0,-10.3 5.0,-11.3 Z" stroke-width="0.5"/></g>
<text x="22.24">2</text>
<g transform="translate(38.92,0)"><path d="M5.0,0.25 L7.05,0.25 L7.05,-14.6 L5.5,-14.6 C4.7,-12.9 3.1,-11.7 0.8,-11.0 L0.8,-9.1 C2.6,-9.6 4.0,-10.3 5.0,-11.3 Z" stroke-width="0.5"/></g>
</g>
<g transform="translate(827.4,838.5) rotate(-90) scale(1.125,1)">
<g transform="translate(0.00,0)"><path d="M5.0,0.25 L7.05,0.25 L7.05,-14.6 L5.5,-14.6 C4.7,-12.9 3.1,-11.7 0.8,-11.0 L0.8,-9.1 C2.6,-9.6 4.0,-10.3 5.0,-11.3 Z" stroke-width="0.5"/></g>
<g transform="translate(11.12,0)"><path d="M5.0,0.25 L7.05,0.25 L7.05,-14.6 L5.5,-14.6 C4.7,-12.9 3.1,-11.7 0.8,-11.0 L0.8,-9.1 C2.6,-9.6 4.0,-10.3 5.0,-11.3 Z" stroke-width="0.5"/></g>
<g transform="translate(22.24,0)"><path d="M5.0,0.25 L7.05,0.25 L7.05,-14.6 L5.5,-14.6 C4.7,-12.9 3.1,-11.7 0.8,-11.0 L0.8,-9.1 C2.6,-9.6 4.0,-10.3 5.0,-11.3 Z" stroke-width="0.5"/></g>
<text x="38.92">2</text>
</g>
<g transform="translate(875.4,837.0) rotate(-90) scale(1.125,1)">
<text x="0.00">0</text>
<text x="11.12">7</text>
<text x="22.24">0</text>
<text x="38.92">2</text>
</g>
<g transform="translate(923.4,835.5) rotate(-90) scale(1.125,1)">
<text x="0.00">0</text>
<text x="11.12">7</text>
<text x="22.24">0</text>
<g transform="translate(38.92,0)"><path d="M5.0,0.25 L7.05,0.25 L7.05,-14.6 L5.5,-14.6 C4.7,-12.9 3.1,-11.7 0.8,-11.0 L0.8,-9.1 C2.6,-9.6 4.0,-10.3 5.0,-11.3 Z" stroke-width="0.5"/></g>
</g>
<g transform="translate(981.6,838.5) rotate(-90) scale(1.125,1)">
<text x="0.00">0</text>
<text x="11.12">7</text>
<text x="22.24">0</text>
<text x="38.92">0</text>
</g>
<g transform="translate(390.0,1076.0) rotate(-90) scale(1.125,1)">
<text x="0.00">0</text>
<g transform="translate(11.12,0)"><path d="M5.0,0.25 L7.05,0.25 L7.05,-14.6 L5.5,-14.6 C4.7,-12.9 3.1,-11.7 0.8,-11.0 L0.8,-9.1 C2.6,-9.6 4.0,-10.3 5.0,-11.3 Z" stroke-width="0.5"/></g>
<g transform="translate(22.24,0)"><path d="M5.0,0.25 L7.05,0.25 L7.05,-14.6 L5.5,-14.6 C4.7,-12.9 3.1,-11.7 0.8,-11.0 L0.8,-9.1 C2.6,-9.6 4.0,-10.3 5.0,-11.3 Z" stroke-width="0.5"/></g>
<text x="38.92">0</text>
</g>
<g transform="translate(419.0,1075.3) rotate(-90) scale(1.125,1)">
<text x="0.00">0</text>
<text x="11.12">4</text>
<text x="22.24">0</text>
<text x="38.92">2</text>
</g>
<g transform="translate(120.1,1281.0) rotate(-90) scale(1.125,1)">
<text x="0.00">5</text>
<text x="11.12">5</text>
<text x="22.24">4</text>
<text x="38.92">0</text>
</g>
<g transform="translate(147.9,1281.0) rotate(-90) scale(1.125,1)">
<text x="0.00">5</text>
<text x="11.12">5</text>
<text x="22.24">4</text>
<g transform="translate(38.92,0)"><path d="M5.0,0.25 L7.05,0.25 L7.05,-14.6 L5.5,-14.6 C4.7,-12.9 3.1,-11.7 0.8,-11.0 L0.8,-9.1 C2.6,-9.6 4.0,-10.3 5.0,-11.3 Z" stroke-width="0.5"/></g>
</g>
<g transform="translate(175.9,1281.0) rotate(-90) scale(1.125,1)">
<text x="0.00">3</text>
<text x="11.12">0</text>
<g transform="translate(22.24,0)"><path d="M5.0,0.25 L7.05,0.25 L7.05,-14.6 L5.5,-14.6 C4.7,-12.9 3.1,-11.7 0.8,-11.0 L0.8,-9.1 C2.6,-9.6 4.0,-10.3 5.0,-11.3 Z" stroke-width="0.5"/></g>
<text x="38.92">2</text>
</g>
<g transform="translate(203.6,1281.0) rotate(-90) scale(1.125,1)">
<text x="0.00">5</text>
<text x="11.12">2</text>
<text x="22.24">6</text>
<text x="38.92">0</text>
</g>
<g transform="translate(231.0,1281.0) rotate(-90) scale(1.125,1)">
<g transform="translate(0.00,0)"><path d="M5.0,0.25 L7.05,0.25 L7.05,-14.6 L5.5,-14.6 C4.7,-12.9 3.1,-11.7 0.8,-11.0 L0.8,-9.1 C2.6,-9.6 4.0,-10.3 5.0,-11.3 Z" stroke-width="0.5"/></g>
<text x="11.12">9</text>
<text x="22.24">0</text>
<text x="38.92">0</text>
</g>
<g transform="translate(530.5,1280.0) rotate(-90) scale(1.125,1)">
<text x="0.00">2</text>
<text x="11.12">4</text>
<text x="22.24">2</text>
<text x="38.92">0</text>
</g>
<g transform="translate(630.5,1280.0) rotate(-90) scale(1.125,1)">
<text x="0.00">2</text>
<text x="11.12">4</text>
<text x="22.24">2</text>
<text x="38.92">8</text>
</g>
<g transform="translate(659.4,1280.0) rotate(-90) scale(1.125,1)">
<text x="0.00">2</text>
<text x="11.12">5</text>
<text x="22.24">7</text>
<text x="38.92">8</text>
</g>
<g transform="translate(690.5,1280.0) rotate(-90) scale(1.125,1)">
<text x="0.00">2</text>
<text x="11.12">5</text>
<text x="22.24">7</text>
<text x="38.92">7</text>
</g>
<g transform="translate(760.3,1279.0) rotate(-90) scale(1.125,1)">
<text x="0.00">2</text>
<text x="11.12">4</text>
<text x="22.24">2</text>
<text x="38.92">9</text>
</g>
<g transform="translate(836.0,1280.7) rotate(-90) scale(1.125,1)">
<text x="0.00">6</text>
<text x="11.12">5</text>
<g transform="translate(22.24,0)"><path d="M5.0,0.25 L7.05,0.25 L7.05,-14.6 L5.5,-14.6 C4.7,-12.9 3.1,-11.7 0.8,-11.0 L0.8,-9.1 C2.6,-9.6 4.0,-10.3 5.0,-11.3 Z" stroke-width="0.5"/></g>
<text x="38.92">0</text>
</g>
<g transform="translate(907.0,1280.7) rotate(-90) scale(1.125,1)">
<text x="0.00">2</text>
<text x="11.12">5</text>
<g transform="translate(22.24,0)"><path d="M5.0,0.25 L7.05,0.25 L7.05,-14.6 L5.5,-14.6 C4.7,-12.9 3.1,-11.7 0.8,-11.0 L0.8,-9.1 C2.6,-9.6 4.0,-10.3 5.0,-11.3 Z" stroke-width="0.5"/></g>
<text x="38.92">0</text>
</g>
<g transform="translate(937.4,1279.0) rotate(-90) scale(1.125,1)">
<text x="0.00">2</text>
<text x="11.12">5</text>
<g transform="translate(22.24,0)"><path d="M5.0,0.25 L7.05,0.25 L7.05,-14.6 L5.5,-14.6 C4.7,-12.9 3.1,-11.7 0.8,-11.0 L0.8,-9.1 C2.6,-9.6 4.0,-10.3 5.0,-11.3 Z" stroke-width="0.5"/></g>
<g transform="translate(38.92,0)"><path d="M5.0,0.25 L7.05,0.25 L7.05,-14.6 L5.5,-14.6 C4.7,-12.9 3.1,-11.7 0.8,-11.0 L0.8,-9.1 C2.6,-9.6 4.0,-10.3 5.0,-11.3 Z" stroke-width="0.5"/></g>
</g>
<g transform="translate(980.7,1280.7) rotate(-90) scale(1.125,1)">
<text x="0.00">2</text>
<text x="11.12">3</text>
<text x="22.24">3</text>
<text x="38.92">0</text>
</g>
<g transform="translate(1013.7,1282.0) rotate(-90) scale(1.125,1)">
<text x="0.00">2</text>
<text x="11.12">3</text>
<text x="22.24">3</text>
<text x="38.92">9</text>
</g>
<g transform="translate(121.0,1578.0) rotate(-90) scale(1.125,1)">
<text x="0.00">7</text>
<text x="11.12">4</text>
<text x="22.24">0</text>
<text x="38.92">3</text>
</g>
<g transform="translate(174.0,1577.0) rotate(-90) scale(1.125,1)">
<text x="0.00">7</text>
<text x="11.12">4</text>
<text x="22.24">0</text>
<text x="38.92">0</text>
</g>
<g transform="translate(225.0,1577.0) rotate(-90) scale(1.125,1)">
<text x="0.00">7</text>
<text x="11.12">6</text>
<text x="22.24">4</text>
<text x="38.92">0</text>
</g>
<g transform="translate(300.0,1577.0) rotate(-90) scale(1.125,1)">
<text x="0.00">7</text>
<text x="11.12">6</text>
<text x="22.24">4</text>
<text x="38.92">0</text>
</g>
<g transform="translate(353.0,1576.5) rotate(-90) scale(1.125,1)">
<text x="0.00">7</text>
<text x="11.12">8</text>
<g transform="translate(22.24,0)"><path d="M5.0,0.25 L7.05,0.25 L7.05,-14.6 L5.5,-14.6 C4.7,-12.9 3.1,-11.7 0.8,-11.0 L0.8,-9.1 C2.6,-9.6 4.0,-10.3 5.0,-11.3 Z" stroke-width="0.5"/></g>
<g transform="translate(38.92,0)"><path d="M5.0,0.25 L7.05,0.25 L7.05,-14.6 L5.5,-14.6 C4.7,-12.9 3.1,-11.7 0.8,-11.0 L0.8,-9.1 C2.6,-9.6 4.0,-10.3 5.0,-11.3 Z" stroke-width="0.5"/></g>
</g>
<g transform="translate(394.5,1578.0) rotate(-90) scale(1.125,1)">
<text x="0.00">4</text>
<text x="11.12">9</text>
<g transform="translate(22.24,0)"><path d="M5.0,0.25 L7.05,0.25 L7.05,-14.6 L5.5,-14.6 C4.7,-12.9 3.1,-11.7 0.8,-11.0 L0.8,-9.1 C2.6,-9.6 4.0,-10.3 5.0,-11.3 Z" stroke-width="0.5"/></g>
<text x="38.92">0</text>
</g>
<g transform="translate(449.5,1576.0) rotate(-90) scale(1.125,1)">
<text x="0.00">6</text>
<g transform="translate(11.12,0)"><path d="M5.0,0.25 L7.05,0.25 L7.05,-14.6 L5.5,-14.6 C4.7,-12.9 3.1,-11.7 0.8,-11.0 L0.8,-9.1 C2.6,-9.6 4.0,-10.3 5.0,-11.3 Z" stroke-width="0.5"/></g>
<text x="22.24">4</text>
<text x="38.92">0</text>
</g>
<g transform="translate(503.0,1575.0) rotate(-90) scale(1.125,1)">
<text x="0.00">5</text>
<text x="11.12">6</text>
<g transform="translate(22.24,0)"><path d="M5.0,0.25 L7.05,0.25 L7.05,-14.6 L5.5,-14.6 C4.7,-12.9 3.1,-11.7 0.8,-11.0 L0.8,-9.1 C2.6,-9.6 4.0,-10.3 5.0,-11.3 Z" stroke-width="0.5"/></g>
<text x="38.92">2</text>
</g>
<g transform="translate(554.5,1577.4) rotate(-90) scale(1.125,1)">
<text x="0.00">4</text>
<text x="11.12">0</text>
<text x="22.24">2</text>
<g transform="translate(38.92,0)"><path d="M5.0,0.25 L7.05,0.25 L7.05,-14.6 L5.5,-14.6 C4.7,-12.9 3.1,-11.7 0.8,-11.0 L0.8,-9.1 C2.6,-9.6 4.0,-10.3 5.0,-11.3 Z" stroke-width="0.5"/></g>
</g>
<g transform="translate(606.3,1577.4) rotate(-90) scale(1.125,1)">
<text x="0.00">4</text>
<text x="11.12">0</text>
<text x="22.24">2</text>
<text x="38.92">0</text>
</g>
<g transform="translate(699.6,1577.4) rotate(-90) scale(1.125,1)">
<text x="0.00">4</text>
<text x="11.12">0</text>
<text x="22.24">3</text>
<text x="38.92">0</text>
</g>
<g transform="translate(785.0,1577.0) rotate(-90) scale(1.125,1)">
<text x="0.00">6</text>
<g transform="translate(11.12,0)"><path d="M5.0,0.25 L7.05,0.25 L7.05,-14.6 L5.5,-14.6 C4.7,-12.9 3.1,-11.7 0.8,-11.0 L0.8,-9.1 C2.6,-9.6 4.0,-10.3 5.0,-11.3 Z" stroke-width="0.5"/></g>
<text x="22.24">4</text>
<g transform="translate(38.92,0)"><path d="M5.0,0.25 L7.05,0.25 L7.05,-14.6 L5.5,-14.6 C4.7,-12.9 3.1,-11.7 0.8,-11.0 L0.8,-9.1 C2.6,-9.6 4.0,-10.3 5.0,-11.3 Z" stroke-width="0.5"/></g>
</g>
<g transform="translate(836.0,1577.0) rotate(-90) scale(1.125,1)">
<text x="0.00">4</text>
<text x="11.12">9</text>
<g transform="translate(22.24,0)"><path d="M5.0,0.25 L7.05,0.25 L7.05,-14.6 L5.5,-14.6 C4.7,-12.9 3.1,-11.7 0.8,-11.0 L0.8,-9.1 C2.6,-9.6 4.0,-10.3 5.0,-11.3 Z" stroke-width="0.5"/></g>
<g transform="translate(38.92,0)"><path d="M5.0,0.25 L7.05,0.25 L7.05,-14.6 L5.5,-14.6 C4.7,-12.9 3.1,-11.7 0.8,-11.0 L0.8,-9.1 C2.6,-9.6 4.0,-10.3 5.0,-11.3 Z" stroke-width="0.5"/></g>
</g>
<g transform="translate(887.0,1577.0) rotate(-90) scale(1.125,1)">
<text x="0.00">5</text>
<text x="11.12">6</text>
<g transform="translate(22.24,0)"><path d="M5.0,0.25 L7.05,0.25 L7.05,-14.6 L5.5,-14.6 C4.7,-12.9 3.1,-11.7 0.8,-11.0 L0.8,-9.1 C2.6,-9.6 4.0,-10.3 5.0,-11.3 Z" stroke-width="0.5"/></g>
<text x="38.92">0</text>
</g>
<g transform="translate(963.4,1577.0) rotate(-90) scale(1.125,1)">
<text x="0.00">7</text>
<text x="11.12">4</text>
<text x="22.24">5</text>
<text x="38.92">0</text>
</g>
</g>
<g transform="translate(1064.6,232.8) rotate(-90) scale(1.145,1)" font-size="21.8" font-weight="bold" fill="#000">
<text x="0.00">0</text>
<text x="12.12">0</text>
<text x="24.24">0</text>
<text x="36.36">0</text>
<text x="54.54">0</text>
<text x="66.66">0</text>
<g transform="translate(78.79,0)"><path d="M5.9,0.2 L8.95,0.2 L8.95,-15.3 L6.4,-15.3 C5.6,-13.8 4.0,-12.9 1.6,-12.6 L1.6,-10.3 C3.2,-10.5 4.8,-11.0 5.9,-11.8 Z" stroke="none"/></g>
<g transform="translate(96.97,0)"><path d="M5.9,0.2 L8.95,0.2 L8.95,-15.3 L6.4,-15.3 C5.6,-13.8 4.0,-12.9 1.6,-12.6 L1.6,-10.3 C3.2,-10.5 4.8,-11.0 5.9,-11.8 Z" stroke="none"/></g>
<text x="109.09">7</text>
<text x="121.21">0</text>
<text x="133.33">3</text>
<text x="145.45">0</text>
</g>
</svg></body></html>
